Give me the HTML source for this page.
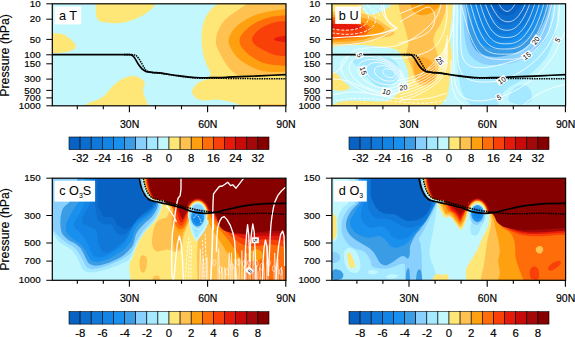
<!DOCTYPE html>
<html lang="en"><head><meta charset="utf-8"><title>Figure: T, U, O3S and O3 anomalies</title>
<style>html,body{margin:0;padding:0;background:#fff}body{width:575px;height:337px;overflow:hidden}svg{display:block}svg text{stroke:#000;stroke-width:.18px;stroke-linejoin:round}svg text.pl{stroke:none}</style>
</head><body>
<svg width="575" height="337" viewBox="0 0 575 337" font-family='"Liberation Sans", Arial, Helvetica, sans-serif' fill="#000">
<rect width="575" height="337" fill="#fff"/>
<defs>
<clipPath id="clipa"><rect x="52.3" y="3.8" width="233.7" height="102"/></clipPath>
<clipPath id="clipb"><rect x="331.9" y="3.8" width="233.7" height="102"/></clipPath>
<clipPath id="clipc"><rect x="52.3" y="178.2" width="233.7" height="102.1"/></clipPath>
<clipPath id="clipd"><rect x="331.9" y="178.2" width="233.7" height="102.1"/></clipPath>
</defs>
<g clip-path="url(#clipa)"><rect x="52.3" y="3.8" width="233.7" height="102" fill="#C2F8FD"/><path d="M95.8 0C95.8 2.3 95.5 10.6 96 14C96.5 17.4 96.8 19.1 98.5 20.5C100.2 21.9 103.1 22.1 106 22.6C108.9 23.1 112.7 23.4 116 23.3C119.3 23.2 122.7 22.8 126 22C129.3 21.2 132.8 20.1 136 18.8C139.2 17.5 142.3 15.7 145 14C147.7 12.3 149.8 10.8 152 8.5C154.2 6.2 157.4 1.4 158.5 0Z" fill="#FFE777"/><path d="M48 33.2C50 33.3 56.8 33 60 33.6C63.2 34.2 65.2 35.5 67.5 37C69.8 38.5 72.2 40.7 73.6 42.3C75 43.9 76 45.2 75.8 46.5C75.6 47.8 74.6 49 72.5 50C70.4 51 67.1 51.9 63 52.4C58.9 52.9 50.5 53.1 48 53.2Z" fill="#FFE777"/><path d="M82 108C83 107.2 85.6 104.3 88.3 102.9C91 101.5 95.4 101 98.4 99.4C101.4 97.8 104.2 95.6 106.5 93.4C108.8 91.2 110.2 88.5 112.5 86.3C114.8 84 117.9 81.5 120.6 79.9C123.3 78.3 126.3 77.2 128.7 76.6C131 76 132.7 75.9 134.7 76.2C136.7 76.5 139.1 77.3 140.8 78.4C142.5 79.5 144.4 80.9 144.8 82.6C145.2 84.2 143.6 86.3 143.4 88.3C143.2 90.3 143.3 92.4 143.8 94.4C144.3 96.4 145.6 98.1 146.4 100.4C147.2 102.7 148.2 106.7 148.5 108Z" fill="#FFE777"/><path d="M222.5 0C220.5 1.7 213.5 6.6 210.5 10C207.5 13.4 205.8 16.5 204.3 20.2C202.8 23.9 202.1 28.6 201.7 32.3C201.3 36 201.6 39.3 201.7 42.3C201.8 45.2 202.1 47.3 202.5 50C202.9 52.7 203.5 55.8 204.2 58.3C204.9 60.8 205.9 63 206.7 65C207.5 67 208.6 68.3 209.2 70C209.8 71.7 210.9 73.5 210.5 75C210.1 76.5 208.4 78.1 206.7 79.2C204.9 80.3 201.9 80.6 200 81.7C198.1 82.8 196.3 84.1 195 85.8C193.7 87.5 191.8 89.9 192 92C192.2 94.1 194 96.8 196.2 98.2C198.4 99.6 201.9 100.2 205.3 100.4C208.7 100.6 212.5 99.4 216.4 99.6C220.3 99.8 225.1 100.8 228.5 101.4C231.9 102.1 234.5 102.4 236.6 103.5C238.7 104.6 240.3 107.2 241 108L292 108L292 0Z" fill="#FFE777"/><path d="M253 0C250.3 1.8 241.3 7.6 236.6 11C231.8 14.4 227.7 16.6 224.5 20.2C221.3 23.8 218.8 28.6 217.4 32.3C216 36 216 39.6 216 42.3C216 45 216.6 45.9 217.5 48.3C218.4 50.7 220.2 53.9 221.7 56.7C223.2 59.5 225 62.6 226.7 65C228.4 67.3 229.5 69 231.7 70.8C233.9 72.6 235.3 74.8 240 75.6C244.7 76.4 251.3 75.9 260 75.8C268.7 75.7 286.7 75 292 74.8L292 0Z" fill="#FFC250"/><path d="M292 8.3C287.8 8.9 273.7 10.6 266.8 12C259.9 13.4 255.7 14.6 250.7 17C245.7 19.4 240.1 23 236.6 26.2C233.1 29.4 230.8 33.6 229.5 36.3C228.2 39 228.5 40.3 228.7 42.3C228.9 44.3 229.5 45.9 230.8 48.3C232.1 50.7 234.3 54.2 236.7 56.7C239.1 59.2 241.7 61.2 245 63.3C248.3 65.4 252.8 67.8 256.7 69.2C260.6 70.6 262.4 71.3 268.3 71.7C274.2 72.1 288.1 71.7 292 71.7Z" fill="#FFA010"/><path d="M292 14.8C288.5 15.2 277.1 15.6 270.9 17C264.7 18.4 259.2 20.6 254.7 23.2C250.1 25.8 246.1 29.4 243.6 32.3C241.1 35.1 239.7 37.6 239.5 40.3C239.3 43 240.5 45.6 242.5 48.3C244.5 51 247.9 54.2 251.7 56.7C255.4 59.2 260.8 61.9 265 63.3C269.2 64.7 272.2 64.8 276.7 65.3C281.2 65.8 289.4 65.9 292 66Z" fill="#FF6C0A"/><path d="M292 21C289.1 21.2 280.1 21 274.9 22.2C269.7 23.4 264.3 26 260.8 28.2C257.3 30.4 255.1 33.3 253.7 35.3C252.2 37.3 251.8 38.6 252.1 40.3C252.4 42 253.7 43.8 255.8 45.5C257.9 47.2 261.8 49.2 265 50.8C268.2 52.4 270.5 54 275 55C279.5 56 289.2 56.5 292 56.8Z" fill="#F84008"/><path d="M292 35C289.8 35.3 281.9 36 278.9 36.7C275.9 37.4 273.9 38.5 273.9 39.3C273.9 40.1 275.9 41 278.9 41.5C281.9 42 289.8 42.3 292 42.5Z" fill="#E61A0A"/><path d="M251 106C252.8 105.7 255.2 104.7 262 104.4C268.8 104.1 287 104.2 292 104.2L292 108L251 108Z" fill="#FFC250"/><path d="M50 54.6C58.3 54.6 87.2 54.6 100 54.6C112.8 54.6 121.9 54.6 127 54.6C132.1 54.6 129.8 54.7 130.8 54.9C131.8 55.1 132.1 55.3 132.8 55.9C133.5 56.5 134 57 134.9 58.4C135.8 59.8 137 62.2 138.2 64C139.4 65.8 141 67.9 142.3 69.2C143.7 70.5 144.7 71.1 146.3 71.6C147.9 72.1 149.4 72.1 152 72.4C154.6 72.7 157.3 72.7 161.7 73.2C166.1 73.8 172.8 75 178.3 75.7C183.9 76.4 189.4 77.2 195 77.5C200.6 77.8 206.2 77.8 211.7 77.7C217.2 77.7 223.3 77.4 228 77.2C232.7 77 234.7 76.9 240 76.7C245.3 76.5 252 76.2 260 75.8C268 75.4 283.3 74.8 288 74.6" fill="none" stroke="#000" stroke-width="1.7"/><path d="M124 54.6C124.5 54.6 125.9 54.6 127 54.6C128.1 54.6 129.2 54.6 130.4 54.6C131.6 54.6 133.4 54.7 134.4 54.9C135.4 55.1 135.9 55.4 136.6 56C137.3 56.6 137.9 57.3 138.8 58.6C139.7 59.9 140.8 62 141.8 63.6C142.8 65.2 143.7 67.1 144.6 68.4C145.5 69.7 145.8 70.5 147.4 71.2C149 71.9 151.6 72.4 154 72.8C156.4 73.2 157.6 73 161.7 73.5C165.8 74 172.8 75.3 178.3 76C183.9 76.7 189.4 77.5 195 77.9C200.6 78.3 205.9 78.1 211.7 78.2C217.5 78.3 223.6 78.3 230 78.4C236.4 78.5 240.3 78.5 250 78.6C259.7 78.7 281.7 78.8 288 78.8" fill="none" stroke="#000" stroke-width="1.55" stroke-dasharray="1.5 0.9"/></g>
<g clip-path="url(#clipb)"><rect x="331.9" y="3.8" width="233.7" height="102" fill="#FFE777"/><path d="M361.5 0C361.7 1.3 361.9 5.9 362.5 8C363.1 10.1 363.8 11.4 365 12.5C366.2 13.6 368.2 14.4 370 14.6C371.8 14.8 374 14.3 376 13.8C378 13.3 380.2 12.5 382 11.6C383.8 10.7 385.6 9.6 387 8.6C388.4 7.6 389.5 6.9 390.5 5.5C391.5 4.1 392.4 0.9 392.8 0Z" fill="#C2F8FD"/><path d="M330 10C331 10.3 333.5 11.6 336 12C338.5 12.4 341.8 12.3 345 12.5C348.2 12.7 351.9 12.8 355 13C358.1 13.2 360.6 13 363.4 13.7C366.2 14.4 369.2 15.8 372 17C374.8 18.2 377.9 19.9 380.1 21.2C382.3 22.4 383.5 23.5 385 24.5C386.5 25.5 387.8 26.4 389 27.4C390.2 28.3 391.6 29.3 392.5 30.2C393.4 31.1 394.4 31.8 394.5 32.6C394.6 33.4 394.1 34.3 393 35C391.9 35.7 390.2 36.3 388 36.8C385.8 37.3 382.7 37.4 380 37.9C377.3 38.4 374.8 39.2 372 40C369.2 40.8 367.1 42.1 363.4 42.9C359.7 43.6 355.6 44.1 350 44.5C344.4 44.9 333.3 45.3 330 45.5Z" fill="#FFC250"/><path d="M330 14C331.7 14.2 336.3 15.1 340 15.5C343.7 15.9 348.1 16.1 352 16.5C355.9 16.9 360.1 17.1 363.4 17.9C366.7 18.6 369.2 19.9 372 21C374.8 22.1 378.2 23.4 380.1 24.5C382 25.6 382.6 26.6 383.4 27.4C384.1 28.2 384.7 28.8 384.6 29.5C384.5 30.2 383.8 31 383 31.6C382.2 32.2 381.9 32.1 380.1 32.9C378.3 33.7 374.8 35.3 372 36.4C369.2 37.5 367.1 38.8 363.4 39.6C359.7 40.4 355.6 40.9 350 41.3C344.4 41.7 333.3 41.9 330 42Z" fill="#FFA010"/><path d="M330 17C332.5 17.2 340.7 17.9 345 18.5C349.3 19.1 352.9 19.8 356 20.5C359.1 21.2 361.4 22.1 363.4 22.9C365.4 23.7 366.7 24.4 368 25.4C369.3 26.4 371 27.6 371 28.8C371 30 369.3 31.4 368 32.6C366.7 33.8 366.1 35.2 363.4 36.2C360.7 37.2 355.9 38.1 352 38.6C348.1 39.1 343.7 39.2 340 39.4C336.3 39.6 331.7 39.6 330 39.6Z" fill="#FF6C0A"/><path d="M330 20C332.5 20.2 340.7 21 345 21.5C349.3 22 353.2 22.4 356 23C358.8 23.6 360.4 24.3 362 25.2C363.6 26.1 365.6 27.3 365.8 28.6C366 29.9 365 31.8 363.4 32.9C361.8 34 359.1 34.8 356 35.4C352.9 36 349.3 36.5 345 36.8C340.7 37.1 332.5 37.1 330 37.2Z" fill="#F84008"/><path d="M330 23.6C332.5 23.7 340.8 23.8 345 24C349.2 24.2 352.4 24.3 355 24.6C357.6 24.9 359.4 25.5 360.5 26C361.6 26.5 361.9 26.9 361.6 27.4C361.4 27.9 360.6 28.4 359 28.8C357.4 29.2 355.2 29.4 352 29.6C348.8 29.8 343.7 29.9 340 30C336.3 30.1 331.7 30 330 30Z" fill="#E61A0A"/><path d="M398 0C398.3 2 399.2 8.5 400 12C400.8 15.5 401.5 17.7 402.5 21C403.5 24.3 405 28.2 406 32C407 35.8 408.2 40.4 408.3 43.7C408.4 47 406.6 49.3 406.6 52C406.7 54.7 407.9 57.7 408.6 60C409.3 62.3 410.3 64 411 66C411.7 68 412.3 69.7 413 72C413.7 74.3 414.4 77.9 415.4 80C416.4 82.1 417.6 83.5 419 84.4C420.4 85.3 422.3 85.4 424 85.4C425.7 85.4 427.3 85.2 429 84.6C430.7 83.9 432.6 83.1 434 81.5C435.4 79.9 436.4 77.6 437.2 75C438 72.4 438.4 68.9 438.6 66C438.8 63.1 438.8 60.7 438.3 57.8C437.8 54.9 436.6 51.6 435.8 48.7C435 45.8 433.3 43.1 433.3 40.3C433.3 37.5 434.6 34.8 435.8 32C437.1 29.2 439.4 26.5 440.8 23.7C442.2 20.9 443.2 18.5 444.2 15.3C445.2 12.1 446.2 7.1 446.7 4.5C447.2 1.9 446.9 0.8 447 0Z" fill="#FFC250"/><path d="M409.5 0C409.8 1 410.4 4.1 411 6C411.6 7.9 412.3 9.9 413.3 11.2C414.3 12.5 415.6 13.3 417 14C418.4 14.7 420 15.2 421.7 15.3C423.4 15.4 425.3 15 427 14.6C428.7 14.2 430.2 13.7 431.7 12.8C433.2 12 434.8 10.6 436 9.5C437.2 8.4 438.4 7.6 439.2 6C439.9 4.4 440.3 1 440.5 0Z" fill="#FFA010"/><path d="M414 60C414.7 58.7 416.2 58.2 417.5 57.8C418.8 57.3 420.1 57.2 421.7 57.3C423.3 57.4 425.3 57.9 427 58.6C428.7 59.3 430.4 60.5 431.7 61.7C433 62.9 434.3 64.6 435 66C435.7 67.4 435.7 68.6 435.8 70C435.9 71.4 435.9 73.1 435.6 74.5C435.3 75.9 435 77.2 434.2 78.3C433.4 79.4 432.2 80.3 431 81C429.8 81.7 428.2 82.3 426.7 82.5C425.2 82.7 423.4 82.4 422 82C420.6 81.6 419.4 81 418.3 80C417.2 79 416.2 77.4 415.5 76C414.8 74.6 414.6 73.5 414.2 71.7C413.8 70 413.4 67.5 413.4 65.5C413.4 63.5 413.3 61.3 414 60Z" fill="#FFAA28"/><path d="M330 47C332.5 46.8 339.7 45.8 345 45.5C350.3 45.2 356.5 44.8 362 45C367.5 45.2 373.3 46 378 46.5C382.7 47 386.9 47.4 390 48C393.1 48.6 394.9 48.9 396.7 50C398.4 51.1 399.4 52.8 400.5 54.5C401.6 56.2 402.4 58.2 403.3 60C404.2 61.8 405.3 63.3 406 65C406.7 66.7 407.1 68.2 407.5 70C407.9 71.8 408.5 73.8 408.6 75.5C408.7 77.2 408.7 78.5 408.3 80C407.9 81.5 407.1 83.2 406.3 84.5C405.5 85.8 404.3 86.9 403.3 88C402.3 89.1 401.4 90 400.3 91C399.2 92 398.1 92.9 397 94C395.9 95.1 394.7 96.6 393.6 97.6C392.5 98.6 391.7 99.4 390.4 100C389.1 100.6 387.7 101 386 101.2C384.3 101.4 382.5 101.4 380 101.4C377.5 101.4 373.8 101.3 371 101.2C368.2 101.1 366 101.1 363.3 101C360.6 100.9 357.8 100.8 355 100.8C352.2 100.8 349.2 100.7 346.7 100.9C344.2 101.1 341.8 101.4 340 101.8C338.2 102.2 337.7 102.6 336 103.2C334.3 103.8 331 105.1 330 105.5Z" fill="#C2F8FD"/><path d="M352.5 60C352.9 59 355.2 58.3 357 57.8C358.8 57.2 360.8 57 363.3 56.7C365.8 56.4 369.2 56.3 372 56.2C374.8 56.1 377.5 56.1 380 56.3C382.5 56.5 384.8 56.9 387 57.5C389.2 58.1 391.6 59 393.3 60C395 61 396 62.3 397 63.7C398 65.1 398.7 66.8 399.2 68.3C399.7 69.8 400 71.1 400 72.5C400 73.9 399.7 75.4 399.2 76.7C398.7 78 398 79.2 397 80.3C396 81.4 394.6 82.6 393.3 83.6C392 84.6 390.8 85.6 389.4 86.3C388 87 386.5 87.4 385 87.6C383.5 87.8 382 87.6 380.6 87.3C379.2 87 378.1 86.6 376.7 85.8C375.3 85 373.9 83.8 372.5 82.5C371.1 81.2 369.9 79.8 368.3 78.3C366.7 76.8 364.7 74.9 363 73.2C361.3 71.5 359.7 69.8 358.3 68.3C356.9 66.8 355.6 65.4 354.6 64C353.6 62.6 352.1 61 352.5 60Z" fill="#A4E9FF"/><path d="M330 71.8C330.8 72 333.1 72.3 334.5 72.8C335.9 73.3 337.3 74.1 338.3 75C339.3 75.9 339.9 77 340.6 78C341.3 79 341.6 79.9 342.5 80.8C343.4 81.7 344.9 82.7 346 83.6C347.1 84.5 348.6 85.2 349.2 86C349.8 86.8 350 87.6 349.6 88.2C349.2 88.8 348.6 89.4 347 89.8C345.4 90.2 342.2 90.8 340 90.8C337.8 90.8 335.7 90.2 334 89.8C332.3 89.4 330.7 88.8 330 88.6Z" fill="#FFE777"/><path d="M453.3 0C453.1 1.7 452.7 6.9 452.4 10C452.1 13.1 452 15.9 451.7 18.7C451.4 21.5 450.9 24.2 450.6 27C450.3 29.8 450 32.5 450 35.3C450 38.1 450.2 41.2 450.5 44C450.8 46.8 451.5 49.3 451.7 52C451.9 54.7 452 57.3 451.9 60C451.8 62.7 451.3 65.5 451 68C450.7 70.5 450.3 72.3 450 75C449.7 77.7 449.5 81.2 449.2 84C448.9 86.8 448.7 89.6 448.3 91.7C447.9 93.8 447.4 95.1 446.8 96.5C446.2 97.9 445.9 98.8 445 100C444.1 101.2 443 102.2 441.7 103.5C440.4 104.8 437.8 107.2 437 108L570 108L570 0Z" fill="#C2F8FD"/><path d="M457 0C457.1 0.8 457.2 2.1 457.5 4.5C457.8 6.9 458.5 10.2 458.6 14.5C458.7 18.8 458.2 24.1 458 30C457.8 35.9 457.5 44.2 457.4 50C457.3 55.8 457.1 60 457.4 64.7C457.7 69.4 458.4 74.1 459 78C459.6 81.9 460 84.9 460.8 87.9C461.6 90.9 462.5 93.3 464 96C465.5 98.7 468 101.7 470 104C472 106.3 471.7 109 476 110C480.3 111 492.3 111 496 110C499.7 109 497.3 106 498 104C498.7 102 499 100 500 98C501 96 502.3 93.8 504 92C505.7 90.2 507.5 88.7 510 87C512.5 85.3 516.2 83.5 518.9 81.8C521.6 80.1 523.6 78.8 526 77C528.4 75.2 531 73.5 533.5 71.3C536 69.1 538.8 66.4 541 64C543.2 61.6 544.8 59.7 546.5 57C548.2 54.3 549.7 51.2 551 48C552.3 44.8 553.6 41.7 554.5 38C555.4 34.3 556 29.9 556.5 26C557 22.1 557.1 18.8 557.3 14.5C557.5 10.2 557.7 2.4 557.8 0Z" fill="#A4E9FF"/><path d="M508.5 100.5C507.8 99 509.1 96.2 509.8 94.5C510.5 92.8 511.4 91.3 512.6 90C513.8 88.7 515.3 87.4 517 86.6C518.7 85.8 521.2 84.9 523 84.9C524.8 84.9 526.4 85.7 527.6 86.5C528.8 87.3 529.7 88.6 530.4 90C531.1 91.4 531.8 93.2 532 95C532.2 96.8 532.2 99.1 531.4 100.5C530.6 101.9 528.7 102.9 527 103.6C525.3 104.3 523.2 104.7 521 104.7C518.8 104.7 516.1 104.3 514 103.6C511.9 102.9 509.2 102 508.5 100.5Z" fill="#A4E9FF"/><path d="M461.4 0C461.4 0.8 461.4 2.1 461.7 4.5C462 6.9 462.8 10.2 463.2 14.5C463.6 18.8 463.5 24.9 464 30C464.5 35.1 465 40.8 466 45C467 49.2 468.2 52.3 470 55C471.8 57.7 474.7 59.5 477 61C479.3 62.5 481.5 63.3 484 64C486.5 64.7 488.8 64.9 491.8 65C494.8 65.1 498.5 64.9 502 64.6C505.5 64.3 509.4 63.8 512.6 63C515.8 62.2 518.2 61 521 59.6C523.8 58.2 526.6 56.4 529.3 54.6C532 52.8 534.5 50.8 537 48.6C539.5 46.4 542 44.7 544 41.6C546 38.5 547.6 34.5 548.8 30C550 25.5 550.5 18.8 551.2 14.5C552 10.2 552.9 6.9 553.3 4.5C553.7 2.1 553.7 0.8 553.8 0Z" fill="#8AD0FF"/><path d="M464.6 0C464.7 0.8 464.6 2.1 465 4.5C465.4 6.9 466.4 10.6 466.9 14.5C467.4 18.4 467.4 23.8 468 28C468.6 32.2 469.3 36.5 470.5 40C471.7 43.5 473.1 46.6 475 49C476.9 51.4 479.2 53.2 482 54.5C484.8 55.8 488.5 56.5 492 56.8C495.5 57.1 499.3 56.8 503 56.2C506.7 55.7 510.3 55 514 53.5C517.7 52 521.7 49.9 525 47.5C528.3 45.1 531.3 42.2 534 39C536.7 35.8 538.9 32.1 541 28C543.1 23.9 545.5 18.4 546.8 14.5C548.1 10.6 548.5 6.9 549 4.5C549.5 2.1 549.4 0.8 549.5 0Z" fill="#3A9CE4"/><path d="M467.8 0C467.9 0.8 467.7 2.1 468.3 4.5C468.9 6.9 470.5 10.9 471.3 14.5C472.1 18.1 472.2 22.4 473 26C473.8 29.6 474.7 33.1 476 36C477.3 38.9 479 41.6 481 43.5C483 45.4 485.3 46.6 488 47.5C490.7 48.4 494 48.9 497 49C500 49.1 503 48.9 506 48.3C509 47.7 512 46.9 515 45.5C518 44.1 521.2 42.2 524 40C526.8 37.8 529.6 34.8 532 32C534.4 29.2 536.7 25.9 538.5 23C540.3 20.1 541.9 17.6 543 14.5C544.1 11.4 544.6 6.9 545 4.5C545.4 2.1 545.5 0.8 545.6 0Z" fill="#1A90EE"/><path d="M472.6 0C472.7 0.8 472.7 2.1 473.3 4.5C473.9 6.9 475.4 11.2 476.3 14.5C477.2 17.8 477.6 21.1 478.5 24C479.4 26.9 480.5 29.7 482 32C483.5 34.3 485.4 36.5 487.5 38C489.6 39.5 492.1 40.6 494.5 41.2C496.9 41.8 499.4 41.9 502 41.8C504.6 41.7 507.3 41.3 510 40.5C512.7 39.7 515.4 38.4 518 36.8C520.6 35.2 523.2 33.2 525.5 31C527.8 28.8 529.9 26.2 532 23.5C534.1 20.8 536.5 17.7 538 14.5C539.5 11.3 540.4 6.9 541 4.5C541.6 2.1 541.7 0.8 541.8 0Z" fill="#1284E5"/><path d="M476.6 0C476.9 0.8 477.1 2.1 478.3 4.5C479.5 6.9 482.4 11.6 483.8 14.5C485.2 17.4 485.4 19.8 486.5 22C487.6 24.2 488.9 26.3 490.5 28C492.1 29.7 494 31.4 496 32.4C498 33.4 500.2 33.9 502.5 34C504.8 34.1 507.2 33.9 509.5 33.2C511.8 32.5 514.2 31.2 516.5 29.8C518.8 28.4 521.1 26.3 523 24.5C524.9 22.7 526.5 20.7 528 19C529.5 17.3 530.4 16.9 531.8 14.5C533.2 12.1 535.5 6.9 536.5 4.5C537.5 2.1 537.8 0.8 538 0Z" fill="#1078D8"/><path d="M482.5 0C482.9 0.8 483.3 2.1 485 4.5C486.7 6.9 490.8 12 492.5 14.5C494.2 17 494.3 18.1 495.5 19.5C496.7 20.9 498 22.1 499.5 23C501 23.9 502.8 24.6 504.5 24.8C506.2 25 508.2 24.7 510 24.2C511.8 23.7 513.8 22.6 515.5 21.6C517.2 20.6 519 19.2 520.5 18C522 16.8 522.7 16.8 524.3 14.5C525.9 12.2 528.7 6.9 530 4.5C531.3 2.1 531.7 0.8 532 0Z" fill="#0D6DCE"/><path d="M487 0C487.6 0.8 489.3 2.8 490.8 4.5C492.3 6.2 494.5 8.5 496 10C497.5 11.5 498.5 12.6 500 13.5C501.5 14.4 503.3 15.3 505 15.6C506.7 15.8 508.4 15.5 510 15C511.6 14.5 513.1 13.5 514.5 12.5C515.9 11.5 517.2 10.3 518.5 9C519.8 7.7 520.9 6 522 4.5C523.1 3 524.5 0.8 525 0Z" fill="#0762C4"/><path d="M496.7 -0.7C496.9 -0.2 497.6 1.3 498 2.1C498.4 3 498.8 3.8 499.3 4.6C499.7 5.4 500.1 6 500.6 6.7C501 7.3 501.4 7.9 501.9 8.4C502.3 8.9 502.7 9.3 503.1 9.7C503.6 10.1 504 10.4 504.4 10.6C504.9 10.9 505.3 11.1 505.7 11.2C506.1 11.3 506.6 11.4 507 11.4C507.4 11.4 507.9 11.3 508.3 11.2C508.7 11.1 509.1 10.9 509.6 10.6C510 10.4 510.4 10.1 510.9 9.7C511.3 9.3 511.7 8.9 512.1 8.4C512.6 7.9 513 7.3 513.4 6.7C513.9 6 514.3 5.4 514.7 4.6C515.2 3.8 515.6 3 516 2.1C516.4 1.3 517.1 -0.2 517.3 -0.7" fill="none" stroke="#fff" stroke-width="0.75" stroke-opacity="0.9"/><path d="M488.4 -1.5C488.8 -0.5 490.1 2.6 490.9 4.5C491.7 6.3 492.5 7.9 493.3 9.4C494.1 11 495 12.3 495.8 13.5C496.6 14.7 497.4 15.8 498.2 16.7C499 17.7 499.8 18.5 500.7 19.1C501.5 19.8 502.3 20.3 503.1 20.7C503.9 21.1 504.7 21.4 505.6 21.6C506.4 21.7 507.2 21.8 508 21.8C508.8 21.8 509.6 21.7 510.4 21.6C511.3 21.4 512.1 21.1 512.9 20.7C513.7 20.3 514.5 19.8 515.3 19.1C516.2 18.5 517 17.7 517.8 16.7C518.6 15.8 519.4 14.7 520.2 13.5C521 12.3 521.9 11 522.7 9.4C523.5 7.9 524.3 6.3 525.1 4.5C525.9 2.6 527.2 -0.5 527.6 -1.5" fill="none" stroke="#fff" stroke-width="0.75" stroke-opacity="0.9"/><path d="M483.3 -2.2C483.8 -0.7 485.3 4 486.3 6.7C487.3 9.4 488.3 11.8 489.2 13.9C490.2 16.1 491.2 18 492.2 19.7C493.1 21.4 494.1 22.8 495.1 24.1C496.1 25.3 497 26.3 498 27.1C499 28 500 28.6 501 29C502 29.5 503 29.8 504 30C505 30.2 506 30.2 507 30.2C508 30.2 509 30.2 510 30C511 29.8 512.1 29.5 513.1 29C514.1 28.6 515.1 28 516.2 27.1C517.2 26.3 518.2 25.3 519.3 24.1C520.3 22.8 521.4 21.4 522.4 19.7C523.5 18 524.5 16.1 525.5 13.9C526.6 11.8 527.6 9.4 528.7 6.7C529.7 4 531.2 -0.7 531.7 -2.2" fill="none" stroke="#fff" stroke-width="0.75" stroke-opacity="0.9"/><path d="M478.1 -3C478.7 -1 480.6 5.3 481.8 8.9C482.9 12.4 484.1 15.6 485.2 18.3C486.4 21.1 487.5 23.5 488.7 25.6C489.8 27.6 491 29.4 492.1 30.8C493.3 32.3 494.5 33.4 495.7 34.3C496.8 35.3 498 35.9 499.2 36.4C500.4 36.9 501.6 37.1 502.8 37.3C504.1 37.5 505.3 37.5 506.5 37.5C507.7 37.5 508.9 37.5 510.2 37.3C511.4 37.1 512.6 36.9 513.9 36.4C515.1 35.9 516.4 35.3 517.7 34.3C518.9 33.4 520.2 32.3 521.5 30.8C522.8 29.4 524.1 27.6 525.4 25.6C526.7 23.5 528 21.1 529.3 18.3C530.6 15.6 531.9 12.4 533.1 8.9C534.4 5.3 536.2 -1 536.8 -3" fill="none" stroke="#fff" stroke-width="0.75" stroke-opacity="0.9"/><path d="M473.5 -3.8C474.2 -1.3 476.3 6.7 477.7 11.1C479 15.4 480.3 19.2 481.6 22.5C482.9 25.9 484.2 28.6 485.5 31C486.8 33.4 488.1 35.4 489.4 37C490.8 38.6 492.1 39.8 493.5 40.7C494.8 41.7 496.2 42.3 497.6 42.8C499 43.3 500.4 43.5 501.8 43.7C503.2 43.8 504.6 43.8 506 43.8C507.4 43.8 508.8 43.8 510.3 43.7C511.7 43.5 513.1 43.3 514.6 42.8C516 42.3 517.5 41.7 518.9 40.7C520.4 39.8 521.9 38.6 523.4 37C524.9 35.4 526.5 33.4 528 31C529.5 28.6 531.1 25.9 532.6 22.5C534.1 19.2 535.7 15.4 537.1 11.1C538.6 6.7 540.8 -1.3 541.5 -3.8" fill="none" stroke="#fff" stroke-width="0.75" stroke-opacity="0.9"/><path d="M468.4 -4.5C469.1 -1.6 471.6 8 473.1 13.1C474.6 18.3 476 22.6 477.5 26.4C479 30.2 480.4 33.3 481.9 35.9C483.3 38.6 484.8 40.6 486.3 42.3C487.8 44 489.3 45.2 490.9 46.2C492.4 47.2 494 47.7 495.6 48.2C497.2 48.6 498.8 48.8 500.4 48.9C502 49 503.6 49 505.2 49C506.9 49 508.5 49 510.1 48.9C511.8 48.8 513.4 48.6 515 48.2C516.7 47.7 518.4 47.2 520.1 46.2C521.7 45.2 523.5 44 525.2 42.3C526.9 40.6 528.7 38.6 530.5 35.9C532.2 33.3 534.1 30.2 535.8 26.4C537.6 22.6 539.4 18.3 541.1 13.1C542.8 8 545.3 -1.6 546.1 -4.5" fill="none" stroke="#fff" stroke-width="0.75" stroke-opacity="0.9"/><path d="M463.7 -5.4C464.6 -1.9 467.3 9.4 468.9 15.3C470.6 21.3 472.2 26.2 473.8 30.5C475.4 34.7 476.9 38.1 478.5 41C480.1 43.8 481.8 45.9 483.4 47.7C485.1 49.5 486.8 50.7 488.5 51.6C490.2 52.6 492 53.1 493.7 53.5C495.5 53.9 497.3 54 499.1 54.1C500.9 54.2 502.7 54.2 504.5 54.2C506.3 54.2 508.1 54.2 509.9 54.1C511.7 54 513.5 53.9 515.4 53.5C517.2 53.1 519.1 52.6 521 51.6C522.8 50.7 524.7 49.5 526.7 47.7C528.6 45.9 530.6 43.8 532.6 41C534.6 38.1 536.6 34.7 538.7 30.5C540.7 26.2 542.7 21.3 544.7 15.3C546.6 9.4 549.3 -1.9 550.2 -5.4" fill="none" stroke="#fff" stroke-width="0.75" stroke-opacity="0.9"/><path d="M458.9 -6.3C459.8 -2.3 462.8 10.9 464.6 17.7C466.4 24.5 468.1 30 469.8 34.7C471.6 39.4 473.2 43 475 46.1C476.8 49.2 478.5 51.4 480.4 53.2C482.2 55 484.1 56.1 486 57.1C487.9 58 489.8 58.4 491.8 58.8C493.7 59.2 495.7 59.2 497.7 59.3C499.7 59.4 501.7 59.4 503.6 59.4C505.6 59.4 507.6 59.4 509.6 59.3C511.6 59.2 513.6 59.2 515.6 58.8C517.7 58.4 519.7 58 521.8 57.1C523.9 56.1 526 55 528.1 53.2C530.3 51.4 532.5 49.2 534.7 46.1C536.9 43 539.2 39.4 541.4 34.7C543.7 30 546 24.5 548.2 17.7C550.3 10.9 553.3 -2.3 554.4 -6.3" fill="none" stroke="#fff" stroke-width="0.75" stroke-opacity="0.9"/><path d="M461 0C460.9 5 460.5 21.3 460.6 30C460.7 38.7 460.6 46.5 461.5 52C462.4 57.5 463.6 60.4 466 63C468.4 65.6 471.7 66.9 476 67.5C480.3 68.1 486.3 67.4 492 66.5C497.7 65.6 504.2 63.8 510 62C515.8 60.2 522 58.4 526.8 55.7C531.6 53 535.5 49.8 539 46C542.5 42.2 545.6 38 548 33C550.4 28 552.3 21.5 553.5 16C554.7 10.5 554.8 2.7 555 0" fill="none" stroke="#fff" stroke-width="0.85"/><path d="M457.5 0C457.4 5 457 20.8 457 30C457 39.2 457.1 48.3 457.6 55C458.1 61.7 458.3 66 460 70C461.7 74 464.3 77 468 79C471.7 81 476.4 81.8 482 82C487.6 82.2 495.5 82 501.8 80.3C508.1 78.6 514 75.7 520 72C526 68.3 533 63 538 58C543 53 546.8 47.7 550 42C553.2 36.3 555.8 31 557.5 24C559.2 17 559.6 4 560 0" fill="none" stroke="#fff" stroke-width="0.85"/><path d="M454 0C453.9 6.7 453.5 28.3 453.5 40C453.5 51.7 453.6 62.3 454 70C454.4 77.7 454.5 81.5 456 86C457.5 90.5 459.3 94.5 463 97C466.7 99.5 472 100.9 478 101C484 101.1 492.3 99.4 499 97.4C505.7 95.4 511.8 92.6 518 89C524.2 85.4 530.3 81.2 536 76C541.7 70.8 547.8 64 552 58C556.2 52 558.7 44.7 561 40C563.3 35.3 565.2 31.7 566 30" fill="none" stroke="#fff" stroke-width="0.85"/><path d="M451 60C451.2 64.2 450.8 78.3 452 85C453.2 91.7 455 96.2 458 100C461 103.8 468 106.7 470 108" fill="none" stroke="#fff" stroke-width="0.85"/><path d="M520 108C522.5 106 529.7 99.3 535 96C540.3 92.7 546.5 90 552 88C557.5 86 565.3 84.7 568 84" fill="none" stroke="#fff" stroke-width="0.85"/><path d="M404.4 86.2C403.5 88.5 401.7 90.6 399.4 92.1C397.1 93.6 393.9 94.8 390.4 95.3C387 95.9 382.8 95.9 378.8 95.3C374.8 94.8 370.3 93.7 366.3 92.2C362.3 90.7 358.2 88.6 354.8 86.3C351.4 84.1 348.3 81.3 346.1 78.6C343.9 76 342.2 73 341.5 70.3C340.7 67.6 340.8 64.9 341.6 62.6C342.5 60.3 344.3 58.2 346.6 56.7C348.9 55.2 352.1 54 355.6 53.5C359 52.9 363.2 52.9 367.2 53.5C371.2 54 375.7 55.1 379.7 56.6C383.7 58.1 387.8 60.2 391.2 62.5C394.6 64.7 397.7 67.5 399.9 70.2C402.1 72.8 403.8 75.8 404.5 78.5C405.3 81.2 405.2 83.9 404.4 86.2Z" fill="none" stroke="#fff" stroke-width="0.85"/><path d="M402.5 84C401.8 86 400.3 87.7 398.3 89C396.4 90.3 393.7 91.3 390.8 91.7C387.9 92.2 384.4 92.2 381.1 91.8C377.7 91.3 373.9 90.4 370.6 89.1C367.2 87.9 363.8 86.1 360.9 84.2C358.1 82.3 355.5 80 353.6 77.7C351.8 75.5 350.4 73 349.7 70.7C349.1 68.5 349.2 66.2 349.9 64.3C350.6 62.3 352.1 60.6 354.1 59.3C356 58 358.7 57 361.6 56.6C364.5 56.1 368 56.1 371.3 56.5C374.7 57 378.5 57.9 381.8 59.2C385.2 60.4 388.6 62.2 391.5 64.1C394.3 66 396.9 68.3 398.8 70.6C400.6 72.8 402 75.3 402.7 77.6C403.3 79.8 403.2 82.1 402.5 84Z" fill="none" stroke="#fff" stroke-width="0.85"/><path d="M400.6 81.9C400.1 83.4 398.9 84.9 397.3 85.9C395.7 87 393.5 87.8 391.2 88.2C388.9 88.5 386 88.5 383.3 88.2C380.6 87.9 377.5 87.1 374.8 86.1C372.1 85 369.3 83.6 367 82.1C364.8 80.5 362.6 78.7 361.1 76.8C359.6 75 358.5 73 358 71.2C357.5 69.3 357.6 67.5 358.2 65.9C358.7 64.4 359.9 62.9 361.5 61.9C363.1 60.8 365.3 60 367.6 59.6C369.9 59.3 372.8 59.3 375.5 59.6C378.2 59.9 381.3 60.7 384 61.7C386.7 62.8 389.5 64.2 391.8 65.7C394 67.3 396.2 69.1 397.7 71C399.2 72.8 400.3 74.8 400.8 76.6C401.3 78.5 401.2 80.3 400.6 81.9Z" fill="none" stroke="#fff" stroke-width="0.85"/><path d="M398.8 79.7C398.3 80.9 397.4 82.1 396.2 82.9C395 83.7 393.3 84.3 391.6 84.6C389.8 84.9 387.6 84.9 385.5 84.6C383.5 84.4 381.1 83.8 379.1 83C377 82.2 374.9 81.1 373.1 80C371.4 78.8 369.8 77.4 368.7 76C367.5 74.6 366.7 73 366.3 71.6C365.9 70.2 366 68.7 366.4 67.6C366.9 66.4 367.8 65.2 369 64.4C370.2 63.6 371.9 63 373.6 62.7C375.4 62.4 377.6 62.4 379.7 62.7C381.7 62.9 384.1 63.5 386.1 64.3C388.2 65.1 390.3 66.2 392.1 67.3C393.8 68.5 395.4 69.9 396.5 71.3C397.7 72.7 398.5 74.3 398.9 75.7C399.3 77.1 399.2 78.6 398.8 79.7Z" fill="none" stroke="#fff" stroke-width="0.85"/><path d="M396.9 77.6C396.6 78.4 396 79.2 395.1 79.8C394.3 80.3 393.2 80.8 391.9 81C390.7 81.2 389.2 81.2 387.8 81.1C386.4 80.9 384.8 80.5 383.3 80C381.9 79.4 380.5 78.7 379.3 77.8C378.1 77 377 76 376.2 75.1C375.4 74.1 374.8 73 374.6 72C374.3 71.1 374.3 70 374.7 69.2C375 68.4 375.6 67.6 376.5 67C377.3 66.5 378.4 66 379.7 65.8C380.9 65.6 382.4 65.6 383.8 65.7C385.2 65.9 386.8 66.3 388.3 66.8C389.7 67.4 391.1 68.1 392.3 69C393.5 69.8 394.6 70.8 395.4 71.7C396.2 72.7 396.8 73.8 397 74.8C397.3 75.7 397.3 76.8 396.9 77.6Z" fill="none" stroke="#fff" stroke-width="0.85"/><path d="M395.1 75.4C394.9 75.9 394.5 76.4 394.1 76.7C393.6 77 393 77.3 392.3 77.4C391.6 77.5 390.8 77.6 390 77.5C389.2 77.4 388.4 77.2 387.6 76.9C386.8 76.6 386 76.2 385.4 75.7C384.7 75.3 384.1 74.7 383.7 74.2C383.3 73.6 383 73 382.8 72.5C382.7 71.9 382.7 71.3 382.9 70.9C383.1 70.4 383.5 69.9 383.9 69.6C384.4 69.3 385 69 385.7 68.9C386.4 68.8 387.2 68.7 388 68.8C388.8 68.9 389.6 69.1 390.4 69.4C391.2 69.7 392 70.1 392.6 70.6C393.3 71 393.9 71.6 394.3 72.1C394.7 72.7 395 73.3 395.2 73.8C395.3 74.4 395.3 75 395.1 75.4Z" fill="none" stroke="#fff" stroke-width="0.85"/><path d="M332 79C334.2 79.2 340.3 79.3 345 80.5C349.7 81.7 355 84.1 360 86C365 87.9 370.6 90.6 375 92C379.4 93.4 382.5 94.5 386.3 94.5C390.1 94.5 394.1 93.8 398 92C401.9 90.2 405.7 87.3 410 84C414.3 80.7 419.7 75.9 424 72C428.3 68.1 432.3 64.7 436 60.5C439.7 56.3 443.3 52.1 446 47C448.7 41.9 450.7 35.8 452 30C453.3 24.2 453.6 17 454 12C454.4 7 454.4 2 454.5 0" fill="none" stroke="#fff" stroke-width="0.85"/><path d="M332 74C333.3 73.2 337.7 71.3 340 69C342.3 66.7 344 62.8 346 60C348 57.2 349.7 53.8 352 52C354.3 50.2 356.4 49.8 359.7 49C363 48.2 367.3 47.8 372 47.5C376.7 47.2 383 47.6 388 47C393 46.4 397.5 45.7 402 44C406.5 42.3 410.7 39.8 415 37C419.3 34.2 424.3 30.5 428 27C431.7 23.5 434.8 19.7 437 16C439.2 12.3 440.2 7.7 441 5C441.8 2.3 441.8 0.8 442 0" fill="none" stroke="#fff" stroke-width="0.85"/><path d="M398 80.5C399.8 80.1 405.2 79.1 409 78C412.8 76.9 416.7 75.8 420.5 74C424.3 72.2 428.4 69.9 431.8 67.2C435.2 64.5 438.6 61.4 440.9 58C443.2 54.6 444.3 50.4 445.4 46.6C446.5 42.8 447.2 36.9 447.6 35" fill="none" stroke="#fff" stroke-width="0.8"/><path d="M398.3 83.4C400.1 83 405.3 82 409 80.9C412.7 79.8 416.7 78.6 420.5 76.8C424.3 75 428.4 72.6 431.8 70C435.2 67.4 438.6 64.3 440.9 61C443.2 57.7 444.3 53.7 445.4 50C446.5 46.3 447.2 40.7 447.6 38.8" fill="none" stroke="#fff" stroke-width="0.8"/><path d="M398.6 86.3C400.3 85.9 405.4 84.9 409 83.8C412.6 82.7 416.7 81.4 420.5 79.6C424.3 77.8 428.4 75.4 431.8 72.8C435.2 70.2 438.6 67.2 440.9 64C443.2 60.8 444.3 57 445.4 53.4C446.5 49.8 447.2 44.4 447.6 42.6" fill="none" stroke="#fff" stroke-width="0.8"/><path d="M398.9 89.2C400.6 88.8 405.4 87.8 409 86.7C412.6 85.6 416.7 84.2 420.5 82.4C424.3 80.6 428.4 78.2 431.8 75.6C435.2 73 438.6 70.1 440.9 67C443.2 63.9 444.3 60.2 445.4 56.8C446.5 53.4 447.2 48.1 447.6 46.4" fill="none" stroke="#fff" stroke-width="0.8"/><path d="M399.2 92.1C400.8 91.7 405.4 90.8 409 89.6C412.6 88.4 416.7 87.1 420.5 85.2C424.3 83.3 428.4 80.9 431.8 78.4C435.2 75.9 438.6 73 440.9 70C443.2 67 444.3 63.5 445.4 60.2C446.5 56.9 447.2 51.9 447.6 50.2" fill="none" stroke="#fff" stroke-width="0.8"/><path d="M399.5 95C401.1 94.6 405.5 93.7 409 92.5C412.5 91.3 416.7 89.9 420.5 88C424.3 86.1 428.4 83.7 431.8 81.2C435.2 78.7 438.6 75.9 440.9 73C443.2 70.1 444.3 66.8 445.4 63.6C446.5 60.4 447.2 55.6 447.6 54" fill="none" stroke="#fff" stroke-width="0.8"/><path d="M399.8 97.9C401.3 97.5 405.6 96.6 409 95.4C412.4 94.2 416.7 92.7 420.5 90.8C424.3 88.9 428.4 86.5 431.8 84C435.2 81.5 438.6 78.8 440.9 76C443.2 73.2 444.3 70 445.4 67C446.5 64 447.2 59.3 447.6 57.8" fill="none" stroke="#fff" stroke-width="0.8"/><path d="M400.1 100.8C401.6 100.4 405.6 99.5 409 98.3C412.4 97.1 416.7 95.5 420.5 93.6C424.3 91.7 428.4 89.2 431.8 86.8C435.2 84.4 438.6 81.7 440.9 79C443.2 76.3 444.3 73.3 445.4 70.4C446.5 67.5 447.2 63.1 447.6 61.6" fill="none" stroke="#fff" stroke-width="0.8"/><path d="M332 95C335 94.5 343.7 92.2 350 92C356.3 91.8 363.3 92.6 370 93.5C376.7 94.4 383.3 96.5 390 97.5C396.7 98.5 403.3 99.5 410 99.6C416.7 99.7 423.8 99.1 430 98C436.2 96.9 444.2 93.8 447 93" fill="none" stroke="#fff" stroke-width="0.85"/><path d="M336 100.6C338.7 100.3 345.5 98.9 352 98.6C358.5 98.3 367.8 98.5 375 99C382.2 99.5 386.7 100.9 395 101.6C403.3 102.3 416.3 103.5 425 103.2C433.7 102.9 443.3 100.5 447 100" fill="none" stroke="#fff" stroke-width="0.85" stroke-dasharray="3 1.5"/><path d="M332 38C334.4 37.8 341.5 37.3 346.7 37C351.9 36.7 357.8 36.8 363.4 36.2C368.9 35.7 375 34.8 380 33.7C385 32.6 390.6 30.5 393.4 29.5C396.2 28.5 397.1 28.7 396.8 27.9C396.5 27.1 393.5 26 391.8 24.5C390.1 23 388.1 21.1 386.8 18.7C385.6 16.3 384.9 13.4 384.3 10.3C383.7 7.2 383.5 1.7 383.4 0" fill="none" stroke="#fff" stroke-width="1.2"/><path d="M332 45C335 44.9 344.3 44.9 350 44.4C355.7 43.9 361 43.1 366 42C371 40.9 375.8 39.2 380 37.5C384.2 35.8 388.3 33.5 391 32C393.7 30.5 396.2 29.9 396 28.6C395.8 27.3 392 26.1 390 24C388 21.9 385.4 18.7 384 16C382.6 13.3 382 10.7 381.5 8C381 5.3 381.1 1.3 381 0" fill="none" stroke="#fff" stroke-width="0.85"/><path d="M332 33C334.2 33.2 340.7 34.2 345 34.3C349.3 34.4 354.2 34.1 358 33.4C361.8 32.7 365.3 31.4 368 30C370.7 28.6 372.8 26.8 374 25C375.2 23.2 375.7 21.2 375.5 19C375.3 16.8 374.2 14.1 373 12C371.8 9.9 369.8 8 368 6.5C366.2 5 363 3.6 362 3" fill="none" stroke="#fff" stroke-width="0.9" stroke-dasharray="3 1.6"/><path d="M332 29C334.2 29.2 341 30.2 345 30.2C349 30.2 352.8 29.8 356 29C359.2 28.2 362 26.9 364 25.5C366 24.1 367.3 22.2 368 20.5C368.7 18.8 368.7 16.9 368 15C367.3 13.1 365.7 10.7 364 9C362.3 7.3 359 5.7 358 5" fill="none" stroke="#fff" stroke-width="0.9" stroke-dasharray="3 1.6"/><path d="M364 0C364.8 1 367.2 4.3 369 6C370.8 7.7 373.2 8.3 375 10C376.8 11.7 379.2 15 380 16" fill="none" stroke="#fff" stroke-width="0.85" stroke-dasharray="2.4 1.6"/><path d="M370 0C371 1 373.8 4.2 376 6C378.2 7.8 381.8 10.2 383 11" fill="none" stroke="#fff" stroke-width="0.85" stroke-dasharray="2.4 1.6"/><path d="M400 22C401.3 21.2 404.7 18.9 408 17C411.3 15.1 416.7 12.2 420 10.5C423.3 8.8 425.9 7.1 428 7C430.1 6.9 431.3 8.3 432.5 10C433.7 11.7 434.9 14.3 435 17C435.1 19.7 434.3 23.3 433 26C431.7 28.7 429.7 31 427 33C424.3 35 420.5 36.6 417 38C413.5 39.4 409.2 40.7 406 41.5C402.8 42.3 399.3 42.8 398 43" fill="none" stroke="#fff" stroke-width="0.85"/><path d="M400 13.5C401.7 12.8 406.7 10.8 410 9.5C413.3 8.2 417.3 6.6 420 5.5C422.7 4.4 425 3.4 426 3" fill="none" stroke="#fff" stroke-width="0.85"/><path d="M446 0C446.2 2.3 447.2 9.3 447 14C446.8 18.7 446.2 23.7 445 28C443.8 32.3 442.2 36.5 440 40C437.8 43.5 435.3 46.6 432 49C428.7 51.4 424.5 53 420 54.5C415.5 56 409.7 57.2 405 57.8C400.3 58.4 394.2 58.2 392 58.3" fill="none" stroke="#fff" stroke-width="0.85"/><path d="M329.8 54.6C338.1 54.6 367 54.6 379.8 54.6C392.6 54.6 401.7 54.6 406.8 54.6C411.9 54.6 409.6 54.7 410.6 54.9C411.6 55.1 411.9 55.3 412.6 55.9C413.3 56.5 413.8 57 414.7 58.4C415.6 59.8 416.8 62.2 418 64C419.2 65.8 420.8 67.9 422.1 69.2C423.5 70.5 424.5 71.1 426.1 71.6C427.7 72.1 429.2 72.1 431.8 72.4C434.4 72.7 437.1 72.7 441.5 73.2C445.9 73.8 452.6 75 458.1 75.7C463.7 76.4 469.2 77.2 474.8 77.5C480.4 77.8 486 77.8 491.5 77.7C497 77.7 503.1 77.4 507.8 77.2C512.5 77 514.5 76.9 519.8 76.7C525.1 76.5 531.8 76.2 539.8 75.8C547.8 75.4 563.1 74.8 567.8 74.6" fill="none" stroke="#000" stroke-width="1.7"/><path d="M403.8 54.6C404.3 54.6 405.7 54.6 406.8 54.6C407.9 54.6 409 54.6 410.2 54.6C411.4 54.6 413.2 54.7 414.2 54.9C415.2 55.1 415.7 55.4 416.4 56C417.1 56.6 417.7 57.3 418.6 58.6C419.5 59.9 420.6 62 421.6 63.6C422.6 65.2 423.5 67.1 424.4 68.4C425.3 69.7 425.6 70.5 427.2 71.2C428.8 71.9 431.4 72.4 433.8 72.8C436.2 73.2 437.4 73 441.5 73.5C445.6 74 452.6 75.3 458.1 76C463.7 76.7 469.2 77.5 474.8 77.9C480.4 78.3 485.7 78.1 491.5 78.2C497.3 78.3 503.4 78.3 509.8 78.4C516.2 78.5 520.1 78.5 529.8 78.6C539.5 78.7 561.5 78.8 567.8 78.8" fill="none" stroke="#000" stroke-width="1.55" stroke-dasharray="1.5 0.9"/><g transform="translate(359.7 55.3) rotate(70)"><rect x="-2.9" y="-3.6" width="5.9" height="7.2" fill="#fff"/><text x="0" y="2.6" font-size="7.2" text-anchor="middle" stroke="none" style="stroke:none">5</text></g><g transform="translate(363.4 70.8) rotate(75)"><rect x="-5" y="-3.6" width="10" height="7.2" fill="#fff"/><text x="0" y="2.6" font-size="7.2" text-anchor="middle" stroke="none" style="stroke:none">15</text></g><g transform="translate(386.4 91.8) rotate(20)"><rect x="-5" y="-3.6" width="10" height="7.2" fill="#fff"/><text x="0" y="2.6" font-size="7.2" text-anchor="middle" stroke="none" style="stroke:none">10</text></g><g transform="translate(403.4 87.4) rotate(-8)"><rect x="-5" y="-3.6" width="10" height="7.2" fill="#fff"/><text x="0" y="2.6" font-size="7.2" text-anchor="middle" stroke="none" style="stroke:none">20</text></g><g transform="translate(440 60.8) rotate(55)"><rect x="-5" y="-3.6" width="10" height="7.2" fill="#fff"/><text x="0" y="2.6" font-size="7.2" text-anchor="middle" stroke="none" style="stroke:none">25</text></g><g transform="translate(526.8 55.7) rotate(-35)"><rect x="-5" y="-3.6" width="10" height="7.2" fill="#fff"/><text x="0" y="2.6" font-size="7.2" text-anchor="middle" stroke="none" style="stroke:none">15</text></g><g transform="translate(535.6 40.5) rotate(-55)"><rect x="-5" y="-3.6" width="10" height="7.2" fill="#fff"/><text x="0" y="2.6" font-size="7.2" text-anchor="middle" stroke="none" style="stroke:none">20</text></g><g transform="translate(557.5 40) rotate(-60)"><rect x="-2.9" y="-3.6" width="5.9" height="7.2" fill="#fff"/><text x="0" y="2.6" font-size="7.2" text-anchor="middle" stroke="none" style="stroke:none">5</text></g><g transform="translate(501.8 80.3) rotate(-35)"><rect x="-5" y="-3.6" width="10" height="7.2" fill="#fff"/><text x="0" y="2.6" font-size="7.2" text-anchor="middle" stroke="none" style="stroke:none">10</text></g><g transform="translate(499 97.4) rotate(-25)"><rect x="-2.9" y="-3.6" width="5.9" height="7.2" fill="#fff"/><text x="0" y="2.6" font-size="7.2" text-anchor="middle" stroke="none" style="stroke:none">5</text></g></g>
<g clip-path="url(#clipc)"><rect x="52.3" y="178.2" width="233.7" height="102.1" fill="#C2F8FD"/><path d="M131.6 284C131.3 282.5 130.4 277.7 130 275C129.6 272.3 129.3 270.2 129.3 268C129.3 265.8 129.7 263.7 130.2 262C130.7 260.3 131.8 259.3 132.5 257.6C133.2 255.9 133.8 253.8 134.5 252C135.2 250.2 135.8 248.8 136.6 247.1C137.3 245.3 138.1 243.2 139 241.5C139.9 239.8 140.9 238.3 141.9 236.7C142.9 235.1 144 233.4 145 232C146 230.6 147 229.6 148.1 228.4C149.2 227.2 150.4 226.1 151.5 225C152.6 223.9 153.4 223.3 154.4 222.1C155.4 220.8 156.6 219.2 157.5 217.5C158.4 215.8 159.3 213.8 160 212C160.7 210.2 161.4 208.5 161.8 207C162.2 205.5 162.3 203.7 162.4 203L292 203L292 284Z" fill="#FFE777"/><path d="M46 176C46 185.2 44.9 221.5 46 231C47.1 240.5 50.4 231.2 52.5 232.8C54.6 234.5 56.4 238.8 58.4 240.9C60.4 243 62.4 244.1 64.5 245.5C66.6 246.9 69.1 247.6 70.9 249.2C72.7 250.8 74.1 252.9 75.5 255C76.9 257.1 78.2 259.9 79.2 261.8C80.2 263.7 80.6 265.1 81.3 266.5C82 267.9 82.5 269.2 83.4 270.1C84.4 271 85.6 271.6 87 272C88.4 272.4 90 272.5 91.8 272.4C93.6 272.3 95.9 272 98 271.6C100.1 271.2 102 270.7 104.3 270.1C106.6 269.5 109.2 268.7 111.6 267.8C114 266.9 116.8 265.8 118.9 264.9C121.1 264 122.8 263.2 124.5 262.3C126.2 261.4 128 260.6 129.3 259.2C130.6 257.8 131.5 255.9 132.4 254C133.3 252.1 134.1 250 135 248C135.9 246 136.9 244 138 242C139.1 240 140.3 237.8 141.5 236C142.7 234.2 143.7 232.8 145 231.2C146.3 229.6 148.2 227.9 149.5 226.5C150.8 225.1 151.9 223.9 153 222.6C154.1 221.3 155.1 220.1 156 218.6C156.9 217.1 157.9 215.3 158.6 213.6C159.3 211.9 159.9 209.8 160.2 208.4C160.5 207 160.7 205.9 160.4 205C160.1 204.1 159.6 203.8 158.2 203.2C156.8 202.6 153.7 201.9 152 201.2C150.3 200.5 149.4 200.1 148.2 199.2C147 198.3 145.9 197.3 145 196C144.1 194.7 143.3 193.2 142.6 191.5C141.9 189.8 141.3 187.6 140.8 185.7C140.3 183.8 139.9 181.9 139.6 180C139.3 178.1 139.1 175 139 174L46 174Z" fill="#A4E9FF"/><path d="M46 176C46 184.8 45 220 46 229C47 238 50.2 229.4 52 230.2C53.8 231 55.2 232.8 56.5 234C57.8 235.2 58.8 236.5 60 237.6C61.2 238.7 62.2 239.6 63.5 240.6C64.8 241.6 66 242.4 67.6 243.4C69.2 244.4 71.3 245.2 73 246.6C74.7 247.9 76.2 249.7 77.6 251.5C79 253.3 80.2 255.8 81.3 257.6C82.4 259.5 83.1 261 84 262.6C84.9 264.2 85.5 266 86.5 267C87.5 268 88.6 268.4 89.8 268.8C91 269.2 92.1 269.3 93.8 269.1C95.5 268.9 97.9 268.3 100 267.8C102.1 267.3 104.3 266.6 106.4 265.9C108.5 265.2 110.5 264.4 112.6 263.5C114.7 262.6 116.9 261.7 118.9 260.7C120.9 259.7 122.9 258.6 124.8 257.4C126.7 256.2 129 254.9 130.4 253.4C131.8 251.9 132.5 250.1 133.4 248.4C134.3 246.7 134.7 244.8 135.6 243C136.5 241.2 137.5 239.3 138.6 237.6C139.7 235.8 140.8 234.1 141.9 232.5C143 230.9 144.2 229.4 145.4 228C146.6 226.6 147.8 225.3 149 224C150.2 222.7 151.5 221.5 152.6 220.2C153.7 218.9 154.8 217.5 155.6 216C156.4 214.5 157.1 212.6 157.6 211.2C158.1 209.8 158.5 208.5 158.8 207.4C159.1 206.3 159.3 205.5 159.2 204.8C159.1 204.1 159.2 203.8 157.9 203.2C156.7 202.6 153.4 201.9 151.8 201.2C150.1 200.5 149.1 200.1 147.9 199.2C146.8 198.3 145.7 197.3 144.8 196C143.8 194.7 143 193.2 142.3 191.5C141.7 189.8 141.1 187.6 140.6 185.7C140.1 183.8 139.7 181.9 139.3 180C139 178.1 138.8 175 138.8 174L46 174Z" fill="#8AD0FF"/><path d="M78 176C77.3 179.2 75.5 190.6 74 195C72.5 199.4 70.5 200.6 68.8 202.7C67.1 204.8 64.9 205.4 63.6 207.4C62.3 209.4 61.5 211.9 61 214.7C60.5 217.5 60.3 221.2 60.4 224.1C60.5 227 60.8 229.9 61.5 232C62.2 234.1 63.2 235.2 64.5 236.6C65.8 238 67.2 239.4 69 240.5C70.8 241.6 73.2 242.2 75 243.4C76.8 244.6 78.6 245.9 80 247.6C81.4 249.3 82.5 251.6 83.6 253.6C84.7 255.6 85.5 257.9 86.4 259.6C87.3 261.3 87.9 262.7 89 263.6C90.1 264.5 91.5 264.9 92.8 265.2C94.1 265.5 95.3 265.7 97 265.6C98.7 265.5 100.9 264.9 103 264.4C105.1 263.9 107.6 263.2 109.8 262.4C112 261.6 114.3 260.5 116.4 259.4C118.5 258.3 120.7 257.2 122.6 255.9C124.5 254.6 126.2 253 127.8 251.4C129.4 249.8 131.2 248 132.3 246.3C133.4 244.6 133.7 242.8 134.2 241C134.7 239.2 134.9 237.2 135.5 235.6C136.1 234 136.9 232.8 137.6 231.6C138.3 230.4 138.8 229.6 139.8 228.4C140.8 227.2 142.2 225.7 143.5 224.4C144.8 223.1 146.2 222 147.5 220.8C148.8 219.6 150.1 218.6 151.2 217.4C152.3 216.2 153.3 214.9 154.2 213.6C155.1 212.3 155.8 210.8 156.4 209.6C157 208.4 157.4 207.5 157.6 206.6C157.8 205.7 157.8 205 157.8 204.4C157.8 203.8 158.8 203.7 157.7 203.2C156.6 202.7 153.2 201.9 151.5 201.2C149.8 200.5 148.9 200.1 147.7 199.2C146.5 198.3 145.4 197.3 144.5 196C143.6 194.7 142.8 193.2 142.1 191.5C141.4 189.8 140.8 187.6 140.3 185.7C139.8 183.8 139.4 181.9 139.1 180C138.8 178.1 138.6 175 138.5 174L78 174Z" fill="#3A9CE4"/><path d="M85 176C84.5 179.2 83.1 190.6 82 195C80.9 199.4 79.5 200.5 78.2 202.7C77 204.9 75.9 205.8 74.5 208C73.1 210.2 71.1 213.4 69.8 215.7C68.5 218 67.4 219.7 66.7 222C66 224.3 65.6 227.3 65.7 229.3C65.8 231.3 66.5 232.6 67.5 234C68.5 235.4 70 236.8 71.5 238C73 239.2 74.8 240.2 76.5 241.4C78.2 242.6 80 243.5 81.5 245C83 246.5 84.2 248.7 85.4 250.6C86.6 252.5 87.5 254.8 88.4 256.4C89.3 258 90.1 259.1 91 260C91.9 260.9 92.8 261.3 93.8 261.6C94.8 261.9 96 262.1 97.2 262C98.5 261.9 99.7 261.7 101.3 261.3C102.9 260.9 105 260.3 106.8 259.6C108.6 258.9 110.2 257.9 112 257C113.8 256.1 115.7 255.1 117.5 254C119.3 252.9 121 251.9 122.6 250.6C124.2 249.3 125.8 247.6 127.2 246C128.6 244.4 130.2 242.7 131.2 241C132.2 239.3 132.5 237.6 133 236C133.5 234.4 133.9 232.7 134.4 231.4C134.9 230.1 135.4 229 136 228C136.6 227 136.8 226.3 137.7 225.2C138.6 224.1 140.2 222.7 141.6 221.5C143 220.3 144.6 219.3 146 218.2C147.4 217.1 148.6 216.1 149.8 215C151 213.9 152.1 212.6 153 211.4C153.9 210.2 154.6 209 155.2 208C155.8 207 156.2 206.3 156.4 205.6C156.6 204.9 156.3 204.3 156.5 203.9C156.7 203.5 158.3 203.6 157.4 203.2C156.6 202.8 152.9 201.9 151.2 201.2C149.6 200.5 148.6 200.1 147.4 199.2C146.3 198.3 145.2 197.3 144.2 196C143.3 194.7 142.5 193.2 141.8 191.5C141.2 189.8 140.6 187.6 140.1 185.7C139.6 183.8 139.2 181.9 138.8 180C138.5 178.1 138.3 175 138.2 174L85 174Z" fill="#1A90EE"/><path d="M90 176C89.7 179.2 88.9 190.6 88 195C87.1 199.4 85.5 200.1 84.4 202.7C83.3 205.3 82.5 208 81.3 210.5C80.1 213 78.4 215.5 77.1 217.8C75.8 220.1 73.7 222.2 73.5 224.1C73.3 226 75 227.8 76.1 229.3C77.2 230.8 78.9 231.6 80.3 233C81.7 234.4 83.3 236.1 84.6 238C85.9 239.9 87 242.4 88 244.6C89 246.8 89.9 249.2 90.8 251C91.7 252.8 92.5 254.5 93.6 255.6C94.7 256.7 96.1 257.1 97.4 257.4C98.7 257.7 100 257.5 101.6 257.2C103.2 256.9 105.1 256.1 106.8 255.4C108.5 254.7 110.3 253.8 112 252.8C113.7 251.8 115.4 250.7 117 249.6C118.6 248.5 120.2 247.3 121.6 246C123 244.7 124.2 243.2 125.4 241.6C126.6 240 127.7 238.2 128.6 236.6C129.5 235 129.9 233.5 130.6 232C131.3 230.5 131.9 228.9 132.6 227.6C133.3 226.3 133.9 225.2 135 224C136.1 222.8 137.6 221.5 139 220.4C140.4 219.3 142.2 218.2 143.6 217.2C145 216.2 146.4 215.2 147.6 214.2C148.8 213.2 150 212.1 151 211C152 209.9 152.9 208.7 153.6 207.8C154.3 206.9 155 206.1 155.4 205.4C155.8 204.7 155.5 204.1 155.8 203.7C156.1 203.3 158.1 203.6 157.3 203.2C156.5 202.8 152.8 201.9 151.1 201.2C149.5 200.5 148.5 200.1 147.3 199.2C146.2 198.3 145.1 197.3 144.1 196C143.2 194.7 142.4 193.2 141.7 191.5C141 189.8 140.4 187.6 139.9 185.7C139.4 183.8 139 181.9 138.7 180C138.4 178.1 138.2 175 138.1 174L90 174Z" fill="#1284E5"/><path d="M93 176C92.8 179.2 92.5 190.6 92 195C91.5 199.4 90.9 200.5 90.2 202.7C89.5 204.9 89 206.1 88 208C87 209.9 85 211.7 84 214C83 216.3 81.9 220.1 82 221.8C82.1 223.5 83.5 223.7 84.4 224.4C85.3 225.1 86.2 225.4 87.4 226C88.6 226.6 90.2 227.3 91.6 228C93 228.7 95 229 96 230.3C97 231.6 97.1 234.1 97.4 236C97.8 237.9 97.7 240.2 98.1 242C98.5 243.8 99.1 245.2 99.6 246.6C100.1 248 100.5 249.6 101.3 250.6C102.1 251.6 103.3 252.1 104.4 252.4C105.5 252.8 106.4 253 107.7 252.7C109 252.4 110.6 251.3 112 250.4C113.4 249.5 114.8 248.5 116.2 247.4C117.6 246.3 119.2 245.1 120.6 243.8C122 242.6 123.6 241.2 124.8 239.9C126 238.6 126.7 237.2 127.6 235.8C128.5 234.4 129.2 233 130.1 231.4C131 229.8 131.9 227.8 132.8 226C133.7 224.2 134.4 222 135.5 220.7C136.6 219.4 138.1 218.9 139.5 218C140.9 217.1 142.6 216.3 144 215.4C145.4 214.5 146.8 213.6 148 212.6C149.2 211.6 150.4 210.5 151.4 209.6C152.4 208.7 153.2 207.8 153.8 207C154.4 206.2 154.8 205.6 155 205C155.2 204.4 154.8 203.8 155.2 203.5C155.6 203.2 157.9 203.6 157.2 203.2C156.5 202.8 152.7 201.9 151 201.2C149.3 200.5 148.4 200.1 147.2 199.2C146 198.3 144.9 197.3 144 196C143.1 194.7 142.3 193.2 141.6 191.5C140.9 189.8 140.3 187.6 139.8 185.7C139.3 183.8 138.9 181.9 138.6 180C138.3 178.1 138.1 175 138 174L93 174Z" fill="#1078D8"/><path d="M95 176C95 180.5 94.8 197 95 203C95.2 209 95.6 209.4 96 212C96.4 214.6 96.7 216.8 97.4 218.5C98.1 220.2 99 221.1 100 222C101 222.9 102.1 223.5 103.4 223.9C104.7 224.3 106.6 224 108 224.2C109.4 224.4 110.9 224.2 112 225C113.1 225.8 113.7 227.8 114.4 229C115.1 230.2 115.3 231.5 116.2 232.4C117.1 233.3 118.8 234 120 234.4C121.2 234.8 122.4 235 123.7 234.6C125 234.2 126.3 233.1 127.6 232C128.8 230.9 130 229.6 131.2 228.2C132.3 226.8 133.4 225 134.5 223.4C135.6 221.8 136.3 219.9 137.6 218.5C138.8 217.1 140.5 216.1 142 215C143.5 213.9 145.1 213 146.5 212C147.9 211 149.4 209.9 150.5 209C151.6 208.1 152.4 207.3 153 206.4C153.6 205.5 153.3 204.3 154 203.8C154.7 203.3 157.5 203.6 156.9 203.2C156.4 202.8 152.4 201.9 150.8 201.2C149.1 200.5 148.1 200.1 146.9 199.2C145.8 198.3 144.7 197.3 143.8 196C142.8 194.7 142 193.2 141.3 191.5C140.7 189.8 140.1 187.6 139.6 185.7C139.1 183.8 138.7 181.9 138.3 180C138 178.1 137.8 175 137.8 174L95 174Z" fill="#0D6DCE"/><path d="M97.5 176C97.5 180.2 97.4 195.8 97.6 201C97.8 206.2 98 205.5 98.4 207C98.8 208.5 99.7 208.9 100.2 210C100.7 211.1 101.1 212.5 101.6 213.6C102.1 214.7 102.3 215.8 103.4 216.4C104.5 217 106.4 216.8 108 217C109.6 217.2 111.8 216.8 113 217.5C114.2 218.2 114.7 220.2 115.4 221.4C116.1 222.7 116.4 224 117.3 225C118.2 226 119.8 226.9 121 227.6C122.2 228.3 123.3 229.3 124.8 229.2C126.3 229.1 128.2 228.1 129.8 227C131.4 225.9 133 224.2 134.4 222.8C135.8 221.4 137.2 220 138.4 218.6C139.7 217.2 140.6 215.6 141.9 214.3C143.2 213 144.7 212.1 146 211C147.3 209.9 148.9 208.9 150 208C151.1 207.1 152.1 206.4 152.6 205.6C153.1 204.8 152.5 203.8 153.2 203.4C153.9 203 157.1 203.6 156.7 203.2C156.2 202.8 152.2 201.9 150.5 201.2C148.8 200.5 147.9 200.1 146.7 199.2C145.5 198.3 144.4 197.3 143.5 196C142.6 194.7 141.8 193.2 141.1 191.5C140.4 189.8 139.8 187.6 139.3 185.7C138.8 183.8 138.4 181.9 138.1 180C137.8 178.1 137.6 175 137.5 174L97.5 174Z" fill="#0762C4"/><path d="M169.5 205.2C169.7 205.8 170.7 207.2 170.5 208.5C170.3 209.8 169.2 211.6 168.6 213C167.9 214.4 167.6 216.3 166.6 217.2C165.6 218.1 163.9 218 162.5 218.6C161.1 219.2 159.7 219.5 158.4 220.6C157.2 221.7 155.8 223.4 155 225C154.2 226.6 153.8 228.3 153.4 230C153 231.7 152.8 233.3 152.6 235C152.4 236.7 152.1 238.3 152 240C151.9 241.7 151.9 243.6 152.2 245.1C152.5 246.6 153.1 248.1 153.8 249.2C154.6 250.2 155.4 251.1 156.7 251.4C158 251.7 159.9 251.1 161.6 250.8C163.3 250.5 165.1 249.6 166.7 249.6C168.3 249.6 169.5 250.2 171 250.6C172.5 251 174.2 252 175.6 252C177 252 178.5 251.4 179.6 250.4C180.7 249.4 181.4 247.7 182 246C182.6 244.3 182.7 241.8 183 240C183.3 238.2 183.6 236.5 184 235C184.4 233.5 184.8 232.5 185.4 231C186 229.5 186.7 227.7 187.4 226C188.1 224.3 188.7 222.7 189.4 221C190.1 219.3 191 217.7 191.4 216C191.8 214.3 191.9 211.8 192 211L192 204Z" fill="#FFC250"/><path d="M170.6 205.4C170.9 206 172.4 207.6 172.6 209C172.8 210.4 172.1 212.2 172 214C171.9 215.8 171.8 217.7 171.8 220C171.8 222.3 171.9 225.3 172 228C172.1 230.7 172.3 233.3 172.6 236C172.9 238.7 173.1 241.7 173.6 244C174.1 246.3 174.8 248.7 175.6 249.6C176.4 250.5 177.7 250.2 178.6 249.4C179.5 248.6 180.3 246.5 180.8 244.6C181.3 242.7 181.4 239.9 181.8 238C182.2 236.1 182.5 234.4 183 233C183.5 231.6 184.3 230.8 185 229.4C185.7 228 186.5 226.1 187.2 224.4C187.9 222.7 188.4 221 189 219.4C189.6 217.8 190.2 216.4 190.6 215C191 213.6 191.1 211.7 191.2 211L191.2 204Z" fill="#FFAC2C"/><path d="M171.2 205.6C171.5 206.2 172.9 207.9 173.2 209.4C173.5 210.9 172.8 212.8 172.8 214.6C172.8 216.4 172.9 218.1 173.2 220C173.5 221.9 174.1 224.2 174.8 226C175.5 227.8 176.5 229.9 177.4 231C178.3 232.1 179.3 232.5 180.2 232.4C181.1 232.3 182.2 231.4 183 230.6C183.8 229.8 184.5 228.6 185.2 227.4C185.9 226.2 186.6 224.8 187.2 223.4C187.8 222 188.4 220.4 189 219C189.6 217.6 190.2 216.3 190.6 215C191 213.7 191.1 211.7 191.2 211L191.2 204Z" fill="#FFA010"/><path d="M170.6 205.6C171.1 206.2 173 207.9 173.4 209.4C173.8 210.9 173 212.8 173 214.6C173 216.4 173.1 218.2 173.6 220C174.1 221.8 174.8 224.1 175.8 225.6C176.8 227.1 178.2 228.6 179.4 229C180.6 229.4 182.1 228.9 183.2 228C184.3 227.1 185 225.2 185.8 223.6C186.6 222 187.2 220.2 187.8 218.6C188.4 217 189.2 215.5 189.6 214.2C190 212.9 190.3 211.2 190.4 210.6L190.4 204Z" fill="#FF6C0A"/><path d="M172.6 206C173 206.6 174.5 208.2 175 209.6C175.5 211 175.1 212.9 175.4 214.6C175.7 216.3 176 218.2 176.6 219.8C177.2 221.4 178.1 223.4 179 224.4C179.9 225.4 181.2 226.1 182.2 225.6C183.2 225.1 184 223 184.8 221.6C185.6 220.2 186.2 218.4 186.8 217C187.4 215.6 188.2 214.3 188.6 213.2C189 212.1 189.3 210.9 189.4 210.4L189.4 204Z" fill="#F84008"/><path d="M174.4 206.4C174.8 207 176.1 208.5 176.6 209.8C177.1 211.1 177.2 212.6 177.6 214.2C178 215.8 178.5 217.8 179.2 219.2C179.9 220.6 180.8 222.3 181.6 222.4C182.4 222.5 183.1 220.8 183.8 219.6C184.5 218.4 185.2 216.5 185.8 215.2C186.4 213.9 187.2 212.8 187.6 212C188 211.2 188.3 210.5 188.4 210.2L188.4 204Z" fill="#E61A0A"/><path d="M176.4 206.8C176.8 207.3 178 208.8 178.6 210C179.2 211.2 179.3 212.7 179.8 214C180.3 215.3 180.9 216.9 181.4 217.8C181.9 218.7 182.3 219.4 182.8 219.2C183.3 219 183.9 217.4 184.4 216.4C184.9 215.4 185.5 214.1 186 213.2C186.5 212.3 187 211.4 187.2 211L187.2 204Z" fill="#A40808"/><path d="M141 256C141.8 255.3 143.4 255.2 144.4 255.6C145.4 256 146.4 257 146.8 258.4C147.2 259.8 147.1 262.1 146.9 264C146.7 265.9 146.4 268.2 145.8 269.6C145.2 271 144.2 272.4 143.4 272.6C142.6 272.8 141.4 272.3 140.8 271C140.2 269.7 139.8 266.9 139.6 265C139.4 263.1 139.6 261.1 139.8 259.6C140 258.1 140.2 256.7 141 256Z" fill="#FFC250"/><path d="M151.6 284C151.8 282.9 152.2 278.8 153 277.4C153.8 276 155.3 275.5 156.4 275.4C157.5 275.3 158.7 275.6 159.4 277C160.1 278.4 160.2 282.8 160.4 284Z" fill="#FFC250"/><path d="M198.5 232C198.3 234 197.7 240 197.4 244C197.2 248 197 252 197 256C197 260 197.1 263.3 197.2 268C197.3 272.7 197.5 281.3 197.6 284L292 284L292 200L204 200L204.4 214L202.4 224Z" fill="#FFC250"/><path d="M207.4 216C207.8 217.3 208.4 221.2 209.6 224C210.8 226.8 213 230.4 214.3 232.7C215.6 235 216.5 235.9 217.6 237.6C218.7 239.3 219.8 240.7 221 242.7C222.2 244.7 223.6 247.2 225 249.4C226.4 251.6 228 253.8 229.3 256C230.6 258.2 231.7 260.6 232.8 262.8C233.9 265 235.2 267.3 236 269.4C236.8 271.5 237.2 273 237.8 275.4C238.4 277.8 239.1 282.6 239.3 284L292 284L292 200L207 200Z" fill="#FFA010"/><path d="M209.4 214C210 215.2 211.3 218.8 213 221.4C214.7 224 217.5 227.2 219.3 229.3C221.1 231.4 222.2 232.5 223.6 234.2C225 235.9 226.3 237.5 227.7 239.3C229.1 241.1 230.4 243.2 231.8 245.2C233.2 247.1 234.7 249.1 236 251C237.3 252.9 238.3 254.9 239.4 256.8C240.5 258.8 241.8 260.3 242.7 262.7C243.6 265.1 244 267.4 244.6 271C245.2 274.6 245.8 281.8 246 284L292 284L292 200L209 200Z" fill="#FF6C0A"/><path d="M211 213.4C211.8 214.6 213.7 218.1 215.6 220.6C217.5 223.1 220.7 226.4 222.7 228.5C224.7 230.6 226.1 231.5 227.8 233C229.5 234.5 231.1 236.3 232.7 237.7C234.3 239.1 235.9 240.1 237.6 241.2C239.3 242.3 240.9 243.6 242.7 244.4C244.5 245.2 246.5 245.5 248.4 245.8C250.3 246.1 251.9 246.1 254.3 246C256.7 245.9 259.8 245.5 262.6 245.2C265.4 244.9 268.4 244.3 271 244.4C273.6 244.5 274.9 244.9 278.4 245.6C281.9 246.3 289.7 247.9 292 248.4L292 200L211 200Z" fill="#F84008"/><path d="M212.4 213.2C213.3 214.4 215.7 217.8 218 220.4C220.3 223 223.8 226.6 226 228.5C228.2 230.4 229.3 230.9 231 232C232.7 233.1 234.3 234.3 236 235.2C237.7 236.1 239.3 236.9 241 237.6C242.7 238.3 243.8 239 246 239.4C248.2 239.8 251.5 239.8 254.3 239.8C257.1 239.8 259.4 239.4 262.7 239.4C266 239.4 269.1 239.5 274 239.8C278.9 240.1 289 241 292 241.2L292 200L212 200Z" fill="#E61A0A"/><path d="M213.6 213C214.7 214.3 217.8 218 220.4 220.6C223 223.2 226.7 226.7 229 228.5C231.3 230.3 232.5 230.6 234.2 231.4C235.9 232.2 237.2 232.9 239.3 233.5C241.4 234.1 244.3 234.8 246.8 235.2C249.3 235.6 250.4 235.9 254.3 236C258.2 236.1 263.7 236 270 236C276.3 236 288.3 236 292 236L292 200L213.6 200Z" fill="#C80A08"/><path d="M214.6 213C215.9 214.3 219.6 218.3 222.4 220.8C225.2 223.3 229 226.2 231.4 227.8C233.8 229.4 234.7 229.5 236.6 230.2C238.5 230.9 240.1 231.5 243 232C245.9 232.5 249.8 233 254.3 233.2C258.8 233.4 263.7 233.2 270 233.2C276.3 233.2 288.3 233.2 292 233.2L292 200L214.6 200Z" fill="#A40808"/><path d="M247.7 255C248 253.8 248.9 252.1 250 251.2C251.1 250.3 252.6 249.6 254 249.4C255.4 249.2 257.3 249.3 258.6 249.8C259.9 250.3 261.3 251.3 262 252.4C262.7 253.5 263 255 262.7 256.2C262.4 257.4 261.5 258.8 260.4 259.6C259.3 260.4 257.5 260.9 256 261C254.5 261.1 252.5 260.7 251.2 260.2C249.9 259.7 249 259.1 248.4 258.2C247.8 257.3 247.4 256.2 247.7 255Z" fill="#FFA010"/><path d="M139.9 174C140 175 140.4 178 140.7 180C141 181.9 141.3 183.9 141.8 185.7C142.3 187.4 142.9 189 143.5 190.5C144.1 191.9 144.7 193.2 145.4 194.4C146.2 195.5 147 196.5 147.8 197.4C148.6 198.2 149.4 198.8 150.4 199.4C151.4 199.9 152.5 200.2 153.8 200.5C155.1 200.9 156.7 201.1 158.3 201.4C159.8 201.7 162.4 202.1 163.2 202.3L176 196L176 170Z" fill="#8AD0FF"/><path d="M141.4 174C141.5 175 141.9 178 142.2 180C142.5 181.9 142.8 183.9 143.2 185.7C143.7 187.4 144.3 189 144.8 190.4C145.4 191.9 146 193.2 146.7 194.3C147.4 195.4 148.1 196.4 148.9 197.2C149.7 198 150.3 198.6 151.3 199.1C152.2 199.6 153.2 199.9 154.5 200.2C155.7 200.5 157.2 200.8 158.6 201C160.1 201.3 162.4 201.6 163.2 201.8L176 196L176 170Z" fill="#C2F8FD"/><path d="M142.8 174C142.9 175 143.3 178 143.6 180C143.9 181.9 144.2 183.9 144.6 185.7C145 187.4 145.6 189 146.1 190.4C146.7 191.8 147.2 193.1 147.9 194.2C148.5 195.3 149.2 196.3 149.9 197.1C150.6 197.9 151.2 198.5 152.1 198.9C152.9 199.4 153.9 199.7 155.1 200C156.2 200.2 157.6 200.4 158.9 200.6C160.3 200.9 162.5 201.2 163.2 201.3L176 196L176 170Z" fill="#FFE777"/><path d="M144.1 174C144.2 175 144.6 178 144.9 180C145.2 181.9 145.4 183.9 145.8 185.6C146.2 187.4 146.8 188.9 147.3 190.4C147.8 191.8 148.3 193 148.9 194.1C149.5 195.2 150.2 196.2 150.9 197C151.5 197.7 152.1 198.3 152.9 198.8C153.6 199.2 154.5 199.4 155.6 199.7C156.7 199.9 158 200.1 159.2 200.3C160.5 200.5 162.5 200.7 163.2 200.8L176 196L176 170Z" fill="#FFA010"/><path d="M145.3 174C145.4 175 145.8 178 146.1 180C146.3 181.9 146.6 183.9 147 185.6C147.4 187.4 147.9 188.9 148.4 190.3C148.9 191.7 149.4 193 149.9 194.1C150.5 195.2 151.1 196.1 151.7 196.9C152.3 197.6 152.8 198.1 153.6 198.6C154.3 199 155.1 199.2 156.1 199.5C157.1 199.7 158.3 199.8 159.5 200C160.7 200.1 162.6 200.3 163.2 200.4L176 196L176 170Z" fill="#F84008"/><path d="M146.4 174C146.5 175 146.9 178 147.1 180C147.4 181.9 147.7 183.9 148.1 185.6C148.4 187.3 148.9 188.9 149.4 190.3C149.9 191.7 150.3 192.9 150.9 194C151.4 195.1 152 196 152.5 196.7C153.1 197.5 153.5 198 154.2 198.4C154.9 198.8 155.7 199 156.6 199.2C157.5 199.4 158.7 199.5 159.8 199.7C160.9 199.8 162.6 200 163.2 200L176 196L176 170Z" fill="#C80A08"/><path d="M147.5 174C147.6 175 148 178 148.2 180C148.5 181.9 148.8 183.9 149.1 185.6C149.5 187.3 150 188.9 150.4 190.3C150.8 191.6 151.3 192.9 151.8 193.9C152.3 195 152.8 195.9 153.3 196.6C153.8 197.4 154.2 197.9 154.9 198.3C155.5 198.7 156.2 198.8 157.1 199C157.9 199.2 159 199.3 160 199.4C161 199.5 162.1 198.9 163.2 199.6C164.3 200.3 163.9 202.4 166.7 203.6C169.5 204.8 176.4 205.9 180 206.9C183.6 207.9 186.7 209 188 209.4L190 190L292 190L292 170Z" fill="#860000"/><path d="M190 210.8C191 211.1 193.7 212.2 196 212.6C198.3 213 201.3 213.4 204 213.4C206.7 213.4 210 212.4 212 212.8C214 213.2 215.1 214.2 216 215.6C216.9 217 217 219.2 217.7 221C218.4 222.8 218.9 224.8 220 226.4C221.1 228 222.5 229.5 224.3 230.6C226.1 231.7 228.8 232.3 231 232.8C233.2 233.3 235.2 233.5 237.7 233.6C240.2 233.7 243.2 233.6 246 233.4C248.8 233.2 251.5 233 254.3 232.7C257.1 232.4 259.8 232.1 262.6 231.8C265.4 231.5 266.1 231.1 271 231C275.9 230.9 288.5 231 292 231L292 190L186 190Z" fill="#860000"/><path d="M189.6 220C188.1 221.3 189.7 224 190 226C190.3 228 190.6 230.2 191.2 232C191.8 233.8 192.6 235.4 193.4 237C194.2 238.6 195.4 241.3 196.3 241.6C197.2 241.9 198.1 239.7 199 238.6C199.9 237.5 200.9 236.3 201.8 235C202.7 233.7 203.7 232.5 204.6 231C205.5 229.5 206.4 227.7 207 226C207.6 224.3 209.5 221.9 208.2 220.6C206.9 219.3 202.1 218.1 199 218C195.9 217.9 191.1 218.7 189.6 220Z" fill="#C2F8FD"/><path d="M191 220C189.8 221.4 191.2 224.6 191.6 226.6C192 228.6 192.4 230.1 193.2 232C194 233.9 195.3 237.4 196.3 237.8C197.3 238.2 198.2 235.5 199.2 234.2C200.1 232.9 201.1 231.5 202 230C202.9 228.5 203.9 227 204.6 225.4C205.3 223.8 206.9 221.6 206 220.4C205.1 219.2 201.5 218.1 199 218C196.5 217.9 192.2 218.6 191 220Z" fill="#A4E9FF"/><path d="M192.6 220C191.9 221.3 193 224.1 193.6 226C194.2 227.9 195.4 231.1 196.4 231.4C197.4 231.7 198.6 229 199.6 227.6C200.6 226.2 201.9 224.3 202.6 223C203.3 221.7 204.6 220.4 203.8 219.6C203 218.8 199.9 217.9 198 218C196.1 218.1 193.3 218.7 192.6 220Z" fill="#8AD0FF"/><clipPath id="domec"><path d="M176 205.9L180 207L186 209.2L191.7 211.3L197 212.6L201.7 213.1L207 213.1L213.3 212.6L220 211.3L220 190L176 190Z"/></clipPath><g clip-path="url(#domec)"><path d="M210.8 216.4C210.8 218.7 210.4 221.2 209.8 223.4C209.2 225.5 208.1 227.6 206.9 229.3C205.7 230.9 204.2 232.3 202.7 233.2C201.1 234.1 199.3 234.6 197.6 234.6C195.9 234.6 194.1 234.1 192.5 233.2C191 232.3 189.5 230.9 188.3 229.3C187.1 227.6 186 225.5 185.4 223.4C184.8 221.2 184.4 218.7 184.4 216.4C184.4 214.1 184.8 211.6 185.4 209.4C186 207.3 187.1 205.2 188.3 203.5C189.5 201.9 191 200.5 192.5 199.6C194.1 198.7 195.9 198.2 197.6 198.2C199.3 198.2 201.1 198.7 202.7 199.6C204.2 200.5 205.7 201.9 206.9 203.5C208.1 205.2 209.2 207.3 209.8 209.4C210.4 211.6 210.8 214.1 210.8 216.4Z" fill="#A40808"/><path d="M210.1 216.4C210.1 218.6 209.8 221 209.1 223.1C208.5 225.2 207.6 227.2 206.4 228.8C205.3 230.4 203.9 231.7 202.4 232.6C200.9 233.4 199.2 233.9 197.6 233.9C196 233.9 194.3 233.4 192.8 232.6C191.3 231.7 189.9 230.4 188.8 228.8C187.6 227.2 186.7 225.2 186.1 223.1C185.4 221 185.1 218.6 185.1 216.4C185.1 214.2 185.4 211.8 186.1 209.7C186.7 207.6 187.6 205.6 188.8 204C189.9 202.4 191.3 201.1 192.8 200.2C194.3 199.4 196 198.9 197.6 198.9C199.2 198.9 200.9 199.4 202.4 200.2C203.9 201.1 205.3 202.4 206.4 204C207.6 205.6 208.5 207.6 209.1 209.7C209.8 211.8 210.1 214.2 210.1 216.4Z" fill="#C80A08"/><path d="M209.3 216.4C209.3 218.5 209 220.8 208.4 222.8C207.8 224.8 206.9 226.8 205.9 228.3C204.8 229.8 203.5 231.1 202.1 231.9C200.7 232.7 199.1 233.2 197.6 233.2C196.1 233.2 194.5 232.7 193.1 231.9C191.7 231.1 190.4 229.8 189.3 228.3C188.3 226.8 187.4 224.8 186.8 222.8C186.2 220.8 185.9 218.5 185.9 216.4C185.9 214.3 186.2 212 186.8 210C187.4 208 188.3 206 189.3 204.5C190.4 203 191.7 201.7 193.1 200.9C194.5 200.1 196.1 199.6 197.6 199.6C199.1 199.6 200.7 200.1 202.1 200.9C203.5 201.7 204.8 203 205.9 204.5C206.9 206 207.8 208 208.4 210C209 212 209.3 214.3 209.3 216.4Z" fill="#F84008"/><path d="M208.5 216.4C208.5 218.4 208.2 220.6 207.7 222.5C207.1 224.4 206.3 226.3 205.3 227.7C204.3 229.2 203.1 230.4 201.8 231.2C200.5 232 199 232.4 197.6 232.4C196.2 232.4 194.7 232 193.4 231.2C192.1 230.4 190.9 229.2 189.9 227.7C188.9 226.3 188.1 224.4 187.5 222.5C187 220.6 186.7 218.4 186.7 216.4C186.7 214.4 187 212.2 187.5 210.3C188.1 208.4 188.9 206.5 189.9 205.1C190.9 203.6 192.1 202.4 193.4 201.6C194.7 200.8 196.2 200.4 197.6 200.4C199 200.4 200.5 200.8 201.8 201.6C203.1 202.4 204.3 203.6 205.3 205.1C206.3 206.5 207.1 208.4 207.7 210.3C208.2 212.2 208.5 214.4 208.5 216.4Z" fill="#FFA010"/><path d="M207.7 216.4C207.7 218.3 207.4 220.4 206.9 222.2C206.4 224 205.7 225.8 204.7 227.1C203.8 228.5 202.7 229.7 201.5 230.4C200.3 231.2 198.9 231.6 197.6 231.6C196.3 231.6 194.9 231.2 193.7 230.4C192.5 229.7 191.4 228.5 190.5 227.1C189.5 225.8 188.8 224 188.3 222.2C187.8 220.4 187.5 218.3 187.5 216.4C187.5 214.5 187.8 212.4 188.3 210.6C188.8 208.8 189.5 207 190.5 205.7C191.4 204.3 192.5 203.1 193.7 202.4C194.9 201.6 196.3 201.2 197.6 201.2C198.9 201.2 200.3 201.6 201.5 202.4C202.7 203.1 203.8 204.3 204.7 205.7C205.7 207 206.4 208.8 206.9 210.6C207.4 212.4 207.7 214.5 207.7 216.4Z" fill="#FFE777"/></g><path d="M207.5 215.4C207.4 217.1 206.6 218.9 205.9 220.5C205.2 222.1 204.3 223.7 203.4 224.9C202.5 226.1 201.5 227.1 200.5 227.8C199.6 228.4 198.6 228.8 197.6 228.8C196.6 228.8 195.6 228.4 194.7 227.8C193.7 227.1 192.7 226.1 191.8 224.9C190.9 223.7 190 222.1 189.3 220.5C188.6 218.9 187.8 217.1 187.7 215.4C187.6 213.7 188 211.9 188.5 210.3C188.9 208.7 189.7 207.1 190.6 205.9C191.5 204.7 192.6 203.7 193.8 203C195 202.4 196.3 202 197.6 202C198.9 202 200.2 202.4 201.4 203C202.6 203.7 203.7 204.7 204.6 205.9C205.5 207.1 206.3 208.7 206.7 210.3C207.2 211.9 207.6 213.7 207.5 215.4Z" fill="#FFE777"/><path d="M206.9 216.4C206.8 218.2 206.1 220.1 205.5 221.8C204.8 223.4 204 225 203.2 226.3C202.3 227.6 201.4 228.7 200.4 229.3C199.5 230 198.5 230.4 197.6 230.4C196.7 230.4 195.7 230 194.8 229.3C193.8 228.7 192.9 227.6 192 226.3C191.2 225 190.4 223.4 189.7 221.8C189.1 220.1 188.4 218.2 188.3 216.4C188.2 214.6 188.6 212.7 189 211C189.5 209.4 190.2 207.8 191 206.5C191.9 205.2 192.9 204.1 194 203.5C195.1 202.8 196.4 202.4 197.6 202.4C198.8 202.4 200.1 202.8 201.2 203.5C202.3 204.1 203.3 205.2 204.2 206.5C205 207.8 205.7 209.4 206.2 211C206.6 212.7 207 214.6 206.9 216.4Z" fill="#C2F8FD"/><path d="M206.1 216.4C206 218.1 205.4 219.8 204.8 221.4C204.2 222.9 203.4 224.4 202.7 225.6C201.9 226.8 201 227.8 200.2 228.4C199.3 229 198.5 229.4 197.6 229.4C196.7 229.4 195.9 229 195 228.4C194.2 227.8 193.3 226.8 192.5 225.6C191.8 224.4 191 222.9 190.4 221.4C189.8 219.8 189.2 218.1 189.1 216.4C189 214.7 189.3 213 189.7 211.4C190.2 209.9 190.8 208.4 191.6 207.2C192.4 206 193.3 205 194.3 204.4C195.3 203.8 196.5 203.4 197.6 203.4C198.7 203.4 199.9 203.8 200.9 204.4C201.9 205 202.8 206 203.6 207.2C204.4 208.4 205 209.9 205.5 211.4C205.9 213 206.2 214.7 206.1 216.4Z" fill="#A4E9FF"/><path d="M205.3 216C205.2 217.5 204.7 219.1 204.2 220.4C203.7 221.8 203 223.2 202.4 224.2C201.7 225.2 200.8 226.2 200.1 226.7C199.3 227.3 198.4 227.6 197.6 227.6C196.8 227.6 195.9 227.3 195.1 226.7C194.4 226.2 193.5 225.2 192.8 224.2C192.2 223.2 191.5 221.8 191 220.4C190.5 219.1 190 217.5 189.9 216C189.8 214.5 190.1 212.9 190.5 211.6C190.9 210.2 191.5 208.8 192.2 207.8C192.8 206.8 193.7 205.8 194.7 205.3C195.6 204.7 196.6 204.4 197.6 204.4C198.6 204.4 199.6 204.7 200.5 205.3C201.5 205.8 202.4 206.8 203 207.8C203.7 208.8 204.3 210.2 204.7 211.6C205.1 212.9 205.4 214.5 205.3 216Z" fill="#8AD0FF"/><path d="M204.2 217.8C204.2 218.9 203.8 220.1 203.5 221.1C203.1 222.1 202.5 223.1 201.9 223.9C201.3 224.7 200.6 225.3 199.9 225.7C199.2 226.2 198.4 226.4 197.6 226.4C196.8 226.4 196 226.2 195.3 225.7C194.6 225.3 193.9 224.7 193.3 223.9C192.7 223.1 192.1 222.1 191.7 221.1C191.4 220.1 191 218.9 191 217.8C191 216.7 191.2 215.5 191.5 214.5C191.8 213.5 192.3 212.5 192.9 211.7C193.5 210.9 194.3 210.3 195.1 209.9C195.9 209.4 196.8 209.2 197.6 209.2C198.4 209.2 199.3 209.4 200.1 209.9C200.9 210.3 201.7 210.9 202.3 211.7C202.9 212.5 203.4 213.5 203.7 214.5C204 215.5 204.2 216.7 204.2 217.8Z" fill="#3A9CE4"/><path d="M203.3 218.4C203.3 219.3 203.1 220.3 202.8 221.1C202.5 221.9 202 222.7 201.5 223.3C201 224 200.3 224.5 199.7 224.9C199 225.2 198.3 225.4 197.6 225.4C196.9 225.4 196.2 225.2 195.5 224.9C194.9 224.5 194.2 224 193.7 223.3C193.2 222.7 192.7 221.9 192.4 221.1C192.1 220.3 191.9 219.3 191.9 218.4C191.9 217.5 192.1 216.5 192.3 215.7C192.6 214.9 193.1 214.1 193.6 213.5C194.1 212.8 194.7 212.3 195.4 211.9C196.1 211.6 196.9 211.4 197.6 211.4C198.3 211.4 199.1 211.6 199.8 211.9C200.5 212.3 201.1 212.8 201.6 213.5C202.1 214.1 202.6 214.9 202.9 215.7C203.1 216.5 203.3 217.5 203.3 218.4Z" fill="#1A90EE"/><path d="M201.2 218.8C201.2 219.3 201.1 219.9 200.9 220.4C200.8 220.9 200.5 221.4 200.1 221.8C199.8 222.1 199.4 222.5 199 222.7C198.6 222.9 198.1 223 197.6 223C197.1 223 196.6 222.9 196.2 222.7C195.8 222.5 195.4 222.1 195.1 221.8C194.7 221.4 194.4 220.9 194.3 220.4C194.1 219.9 194 219.3 194 218.8C194 218.3 194.1 217.7 194.3 217.2C194.4 216.7 194.7 216.2 195.1 215.8C195.4 215.5 195.8 215.1 196.2 214.9C196.6 214.7 197.1 214.6 197.6 214.6C198.1 214.6 198.6 214.7 199 214.9C199.4 215.1 199.8 215.5 200.1 215.8C200.5 216.2 200.8 216.7 200.9 217.2C201.1 217.7 201.2 218.3 201.2 218.8Z" fill="#1284E5"/><path d="M181 178L181 189L180.2 195.6L178.2 198L176.6 204L175.4 212L174 222L172.4 234L171.8 246L171.7 262L172 276L173.6 281" fill="none" stroke="#fff" stroke-width="1.35" stroke-linejoin="round"/><path d="M173.6 281L174.8 270L176 256L177.4 244L179.4 236L181.2 244L182.4 258L183 272L183.6 281" fill="none" stroke="#fff" stroke-width="1.35" stroke-linejoin="round"/><path d="M166.6 206L170 210.6L173.6 216L176.4 222" fill="none" stroke="#fff" stroke-width="1.35" stroke-linejoin="round"/><path d="M212.7 230L212.8 212.3L213 203L213.5 194L215.4 191.4L219.3 186.5L222.4 186L225 184.2L227.7 182.3L230.6 185.6L232.8 184.8L236 188.2L239.6 183.6L243.5 178.4" fill="none" stroke="#fff" stroke-width="1.35" stroke-linejoin="round"/><path d="M212.7 230L212.2 246L211.6 262L210.8 281" fill="none" stroke="#fff" stroke-width="1.6" stroke-linejoin="round"/><path d="M213.4 212L213.2 230" fill="none" stroke="#fff" stroke-width="1.6" stroke-linejoin="round"/><path d="M285.5 187.3L281.4 191L277.7 195.7L275 201.6L273.5 207.3L272 216L271 224L270.2 236L269.6 250L268.8 264L268.4 276" fill="none" stroke="#fff" stroke-width="1.35" stroke-linejoin="round"/><path d="M216.4 252L216.8 238L217.6 228L219.6 221.4L221.8 217.6L224.2 216.6L227 219.6L230.4 225.6L233 233L234.6 241L235.4 254L235.8 268L236 281" fill="none" stroke="#fff" stroke-width="1.35" stroke-linejoin="round"/><path d="M244.4 281L245 262L245.6 248L246.6 234L247.6 224.6L248.6 234L249.4 250L249.8 262" fill="none" stroke="#fff" stroke-width="1.35" stroke-linejoin="round"/><path d="M249.8 262L250.4 246L251.6 232L252.8 224L254.2 232L255 248L255.6 264L256 281" fill="none" stroke="#fff" stroke-width="1.35" stroke-linejoin="round"/><path d="M262.4 281L263 262L264 248L265.4 240L267 247L267.8 262L268.4 276" fill="none" stroke="#fff" stroke-width="1.35" stroke-linejoin="round"/><path d="M276 281L277 262L278.6 246L280.6 234.6L282.6 231L284 236L284.6 250L284.8 266" fill="none" stroke="#fff" stroke-width="1.35" stroke-linejoin="round"/><path d="M185.4 281L186.4 261.8L188.6 236" fill="none" stroke="#fff" stroke-width="0.85" stroke-linejoin="round" stroke-dasharray="2.6 1.5"/><path d="M188.2 281L188.8 263.4L190.2 240" fill="none" stroke="#fff" stroke-width="0.85" stroke-linejoin="round" stroke-dasharray="2.1 1.7"/><path d="M190.8 281L191 265.8L191.6 246" fill="none" stroke="#fff" stroke-width="0.85" stroke-linejoin="round" stroke-dasharray="2.4 1.3"/><path d="M203.2 281L203 263.4L202.6 240" fill="none" stroke="#fff" stroke-width="0.85" stroke-linejoin="round" stroke-dasharray="2.3 1.6"/><path d="M206.4 281L206 261L205.2 234" fill="none" stroke="#fff" stroke-width="0.85" stroke-linejoin="round" stroke-dasharray="2.7 1.4"/><path d="M193.6 218L196.8 214.6L199.6 218L201.2 223" fill="none" stroke="#fff" stroke-width="0.8" stroke-linejoin="round" stroke-dasharray="2 1.2"/><path d="M199.7 281L199.8 264.2L200.3 249.3L201 266.2L201.2 281" fill="none" stroke="#fff" stroke-width="0.6" stroke-linejoin="round"/><path d="M202.8 281L202.7 268.4L203.4 257.8L204.1 270.4L204.3 281" fill="none" stroke="#fff" stroke-width="0.6" stroke-linejoin="round"/><path d="M206.3 281L206 268.1L206.9 257.2L207.6 270.1L207.8 281" fill="none" stroke="#fff" stroke-width="0.6" stroke-linejoin="round"/><path d="M218 281L217.9 263.9L218.6 248.7L219.3 265.9L219.5 281" fill="none" stroke="#fff" stroke-width="0.6" stroke-linejoin="round"/><path d="M221.2 281L221.3 272.9L221.8 266.8L222.5 274.9L222.7 281" fill="none" stroke="#fff" stroke-width="0.6" stroke-linejoin="round"/><path d="M224.3 281L224.1 273.2L224.9 267.5L225.6 275.2L225.8 281" fill="none" stroke="#fff" stroke-width="0.6" stroke-linejoin="round"/><path d="M228.6 281L228.4 265.7L229.2 252.4L229.9 267.7L230.1 281" fill="none" stroke="#fff" stroke-width="0.6" stroke-linejoin="round"/><path d="M230.9 281L231.1 265.9L231.5 252.8L232.2 267.9L232.4 281" fill="none" stroke="#fff" stroke-width="0.6" stroke-linejoin="round"/><path d="M234.5 281L234.6 268.9L235.1 258.8L235.8 270.9L236 281" fill="none" stroke="#fff" stroke-width="0.6" stroke-linejoin="round"/><path d="M238.3 281L238 268.5L238.9 258.1L239.6 270.5L239.8 281" fill="none" stroke="#fff" stroke-width="0.6" stroke-linejoin="round"/><path d="M241.3 281L241.4 264.8L241.9 250.5L242.6 266.8L242.8 281" fill="none" stroke="#fff" stroke-width="0.6" stroke-linejoin="round"/><path d="M245.4 281L245.4 266L246 252.9L246.7 268L246.9 281" fill="none" stroke="#fff" stroke-width="0.6" stroke-linejoin="round"/><path d="M248.9 281L249.1 265.8L249.5 252.6L250.2 267.8L250.4 281" fill="none" stroke="#fff" stroke-width="0.6" stroke-linejoin="round"/><path d="M252.8 281L252.9 265.2L253.4 251.4L254.1 267.2L254.3 281" fill="none" stroke="#fff" stroke-width="0.6" stroke-linejoin="round"/><path d="M256 281L256.2 272.1L256.6 265.3L257.3 274.1L257.5 281" fill="none" stroke="#fff" stroke-width="0.6" stroke-linejoin="round"/><path d="M259.2 281L258.9 273.3L259.8 267.6L260.5 275.3L260.7 281" fill="none" stroke="#fff" stroke-width="0.6" stroke-linejoin="round"/><path d="M262.9 281L262.7 270.8L263.5 262.7L264.2 272.8L264.4 281" fill="none" stroke="#fff" stroke-width="0.6" stroke-linejoin="round"/><path d="M266.5 281L266.6 262.9L267.1 246.9L267.8 264.9L268 281" fill="none" stroke="#fff" stroke-width="0.6" stroke-linejoin="round"/><path d="M274.1 281L274.2 266L274.7 252.9L275.4 268L275.6 281" fill="none" stroke="#fff" stroke-width="0.6" stroke-linejoin="round"/><path d="M277.2 281L277.1 268.9L277.8 258.8L278.5 270.9L278.7 281" fill="none" stroke="#fff" stroke-width="0.6" stroke-linejoin="round"/><path d="M281 281L281 272.9L281.6 266.8L282.3 274.9L282.5 281" fill="none" stroke="#fff" stroke-width="0.6" stroke-linejoin="round"/><path d="M215.9 262.7L215.5 265L214.3 265.9L213.2 265L212.7 262.7L213.2 260.5L214.3 259.5L215.5 260.5Z" fill="none" stroke="#fff" stroke-width="0.6" stroke-linejoin="round"/><path d="M222 269.8L221.5 272L220.4 273L219.3 272L218.8 269.8L219.3 267.5L220.4 266.6L221.5 267.5Z" fill="none" stroke="#fff" stroke-width="0.6" stroke-linejoin="round"/><path d="M228.6 271.9L228.1 274.1L227 275.1L225.9 274.1L225.4 271.9L225.9 269.6L227 268.7L228.1 269.6Z" fill="none" stroke="#fff" stroke-width="0.6" stroke-linejoin="round"/><path d="M233.2 266.6L232.7 268.9L231.6 269.8L230.4 268.9L230 266.6L230.4 264.4L231.6 263.4L232.7 264.4Z" fill="none" stroke="#fff" stroke-width="0.6" stroke-linejoin="round"/><path d="M239.9 262.3L239.5 264.5L238.3 265.5L237.2 264.5L236.7 262.3L237.2 260L238.3 259.1L239.5 260Z" fill="none" stroke="#fff" stroke-width="0.6" stroke-linejoin="round"/><path d="M245.5 264L245.1 266.3L243.9 267.2L242.8 266.3L242.3 264L242.8 261.8L243.9 260.8L245.1 261.8Z" fill="none" stroke="#fff" stroke-width="0.6" stroke-linejoin="round"/><path d="M250.8 262.7L250.4 265L249.2 265.9L248.1 265L247.6 262.7L248.1 260.4L249.2 259.5L250.4 260.4Z" fill="none" stroke="#fff" stroke-width="0.6" stroke-linejoin="round"/><path d="M258.1 263.6L257.7 265.8L256.5 266.8L255.4 265.8L254.9 263.6L255.4 261.3L256.5 260.4L257.7 261.3Z" fill="none" stroke="#fff" stroke-width="0.6" stroke-linejoin="round"/><path d="M263.1 266.7L262.6 269L261.5 269.9L260.4 269L259.9 266.7L260.4 264.4L261.5 263.5L262.6 264.4Z" fill="none" stroke="#fff" stroke-width="0.6" stroke-linejoin="round"/><path d="M270.3 263L269.9 265.2L268.7 266.2L267.6 265.2L267.1 263L267.6 260.7L268.7 259.8L269.9 260.7Z" fill="none" stroke="#fff" stroke-width="0.6" stroke-linejoin="round"/><path d="M275.5 268.6L275 270.9L273.9 271.8L272.8 270.9L272.3 268.6L272.8 266.3L273.9 265.4L275 266.3Z" fill="none" stroke="#fff" stroke-width="0.6" stroke-linejoin="round"/><path d="M282.4 271.8L281.9 274.1L280.8 275L279.6 274.1L279.2 271.8L279.6 269.6L280.8 268.6L281.9 269.6Z" fill="none" stroke="#fff" stroke-width="0.6" stroke-linejoin="round"/><g transform="translate(255.3 240.2) rotate(90)"><rect x="-2.9" y="-3.6" width="5.9" height="7.2" fill="#fff"/><text x="0" y="2.6" font-size="5.6" text-anchor="middle" stroke="none" style="stroke:none">5</text></g><g transform="translate(249.4 270.7) rotate(-45)"><rect x="-2.9" y="-3.6" width="5.9" height="7.2" fill="#fff"/><text x="0" y="2.6" font-size="5.6" text-anchor="middle" stroke="none" style="stroke:none">5</text></g><path d="M138.6 174C138.7 174.7 139 176.7 139.2 178C139.4 179.3 139.7 180.7 140 182C140.3 183.3 140.4 184.4 140.8 185.7C141.2 187 141.6 188.6 142.2 190C142.8 191.4 143.6 192.9 144.2 194C144.8 195.1 145.3 196 146 196.8C146.7 197.6 147.5 198.4 148.3 199C149.1 199.6 149.9 200.1 151 200.5C152.1 200.9 152.4 200.9 155 201.5C157.6 202.1 162.5 203 166.7 204C170.9 205 175.8 206.1 180 207.3C184.2 208.6 188.1 210.5 191.7 211.5C195.3 212.5 198.1 213 201.7 213.2C205.3 213.4 208.7 213.4 213.3 212.7C217.9 212 223.9 210.2 229.3 209C234.8 207.8 240.4 206.6 246 205.7C251.6 204.8 255.7 204.2 262.7 203.8C269.7 203.4 283.8 203.5 288 203.4" fill="none" stroke="#000" stroke-width="1.7"/><path d="M142.6 174C142.7 174.7 142.9 176.1 143.3 178C143.7 179.9 144.3 183.3 145 185.7C145.7 188.1 146.4 190.4 147.5 192.3C148.6 194.2 149.9 196.1 151.7 197.3C153.5 198.6 155.2 198.9 158.3 199.8C161.4 200.7 165.8 201.6 170 202.7C174.2 203.8 178.9 205.3 183.3 206.5C187.8 207.7 192.5 208.9 196.7 209.8C200.9 210.7 205.6 211.3 208.3 211.7C211 212.1 209.2 212 212.7 212.3C216.2 212.6 223.8 213.5 229.3 213.7C234.9 213.9 240.4 213.8 246 213.7C251.6 213.6 255.7 213.1 262.7 213.2C269.7 213.3 283.8 214.2 288 214.4" fill="none" stroke="#000" stroke-width="1.55" stroke-dasharray="1.5 0.9"/></g>
<g clip-path="url(#clipd)"><rect x="331.9" y="178.2" width="233.7" height="102.1" fill="#C2F8FD"/><path d="M348.4 203.5C347.8 203.9 345.7 205 344.6 206C343.5 207 342.7 207.9 341.7 209.4C340.7 210.9 339.3 213.1 338.6 215C337.9 216.9 337.7 218.7 337.5 221C337.3 223.3 337.4 226.5 337.4 229C337.4 231.5 337.8 234.2 337.6 236C337.4 237.8 337.3 238.8 336 240C334.7 241.2 331 242.5 330 243L330 284L438 284L436.6 276L434 268L431 261L429.4 254L429.8 247L431.4 239L433.4 229.4L434.8 221L435.9 212.7L437.6 203L437 174L349 174Z" fill="#A4E9FF"/><path d="M355 203.5C354.2 204.1 351.8 205.8 350.4 207C349 208.2 347.9 209.3 346.7 211C345.5 212.7 344.2 215.1 343.4 217C342.6 218.9 342 220.7 341.7 222.7C341.4 224.7 341.5 227.1 341.6 229C341.7 230.9 342 232.6 342.5 234.4C343 236.2 343.8 237.9 344.8 239.6C345.8 241.3 347.2 243.2 348.4 244.4C349.5 245.6 350.6 246.3 351.7 247C352.8 247.7 353.8 248.3 355 248.8C356.2 249.3 357.6 249.4 359 249.8C360.4 250.2 361.9 250.1 363.3 251C364.7 251.9 366.3 253.6 367.4 255C368.5 256.4 369.4 258 370 259.3C370.6 260.6 370.9 261.9 371.2 263C371.5 264.1 371 265.2 371.7 266C372.4 266.8 374.1 267.4 375.5 267.8C376.9 268.2 377.9 268.4 380 268.5C382.1 268.6 385.9 268.8 388.3 268.5C390.7 268.2 392.6 267.3 394.5 266.6C396.4 265.9 398.4 264.8 400 264.3C401.6 263.8 403 263.8 404.4 263.8C405.8 263.8 407.1 264.8 408.3 264.3C409.5 263.8 410.5 262.7 411.4 260.6C412.2 258.6 412.6 254.4 413.4 252C414.1 249.6 415 248.3 415.9 246C416.8 243.7 417.6 240.8 419 238C420.4 235.2 422.5 232.4 424.2 229.4C425.9 226.4 427.6 222.8 429 220C430.4 217.2 431.5 214.9 432.6 212.7C433.7 210.5 434.7 208.2 435.4 206.6C436.1 205 436.4 203.8 436.6 203.2L436 174L355 174Z" fill="#8AD0FF"/><path d="M404.6 262C404.7 263.3 404.9 266.3 405 270C405.1 273.7 405.3 281.7 405.4 284L422 284L422 268L421.6 254L420.6 244L418 238L410 246Z" fill="#8AD0FF"/><path d="M358.4 203.5C357.6 204.2 355 206.5 353.6 208C352.2 209.5 351.1 210.9 350 212.7C348.9 214.5 347.9 216.6 347.2 218.6C346.5 220.6 346 222.7 345.9 224.4C345.8 226.1 346.2 227.6 346.6 229C347 230.4 347.6 231.5 348.4 232.7C349.2 233.9 350.3 235.3 351.4 236.4C352.5 237.5 353.7 238.5 355 239.4C356.3 240.3 357.6 241.2 359 242C360.4 242.8 361.8 243.5 363.4 244.4C364.9 245.3 366.6 246.3 368.3 247.6C370 248.9 372 250.4 373.4 252C374.8 253.6 375.7 255.6 376.8 257.4C377.9 259.2 379 261.5 380 262.7C381 263.9 381.9 264.4 383 264.8C384.1 265.2 385.2 265.6 386.7 265.2C388.2 264.8 390.3 263.6 392 262.6C393.7 261.6 395.4 260.2 396.7 259.3C398 258.4 398.9 257.6 400 257C401.1 256.4 402.3 255.9 403.3 256C404.3 256.1 405.2 257 406 257.4C406.8 257.8 407.7 259.1 408.3 258.5C408.9 257.9 409.5 255.9 409.8 254C410.1 252.1 409.5 249.4 410 247C410.5 244.6 411.9 241.8 413 239.6C414.1 237.4 415.3 235.3 416.5 233.6C417.7 231.9 418.8 231.1 420 229.4C421.2 227.7 422.6 225.7 424 223.6C425.4 221.5 427.3 219.1 428.6 217C429.9 214.9 431 212.8 432 211C433 209.2 434 207.3 434.6 206C435.2 204.7 435.6 203.7 435.8 203.2L435.6 174L358.4 174Z" fill="#3A9CE4"/><path d="M360.9 203.5C360.2 204.4 357.9 207.2 356.6 209C355.4 210.8 354.3 212.8 353.4 214.4C352.5 216 351.6 217.2 351 218.6C350.4 220 350.1 221.4 350 222.7C349.9 224 350.2 225.3 350.6 226.4C351 227.5 351.8 228.4 352.5 229.4C353.2 230.4 354 231.4 355 232.2C356 233 357.1 233.7 358.4 234.4C359.7 235.1 361.3 235.9 363 236.4C364.7 236.9 366.6 237.6 368.4 237.7C370.2 237.8 371.9 237.3 373.6 237C375.3 236.7 377 236 378.4 236C379.8 236 380.9 236.6 382 237.2C383.1 237.8 384.1 238.5 385.1 239.4C386.1 240.3 387 241.5 387.8 242.6C388.6 243.7 389.2 245.2 390.1 246C391 246.8 392.3 247.3 393.4 247.6C394.5 247.9 395.5 247.9 396.8 247.7C398.1 247.5 399.6 247.1 401 246.6C402.4 246.1 403.8 245.3 405.1 244.4C406.4 243.5 407.5 242.5 408.6 241.4C409.7 240.3 410.7 239 411.8 237.7C412.9 236.4 414.3 234.8 415.4 233.4C416.5 232 417.3 231 418.5 229.4C419.7 227.8 421.1 225.7 422.5 223.6C423.9 221.5 425.6 219.2 427 217C428.4 214.8 429.9 212.4 431 210.6C432.1 208.8 433.1 207.2 433.8 206C434.5 204.8 435 203.6 435.2 203.1L435.2 174L360.9 174Z" fill="#1A90EE"/><path d="M363.4 204.3C363.1 205.2 362 208.1 361.6 210C361.2 211.9 360.9 214.4 360.9 216C360.9 217.6 361.2 218.5 361.6 219.6C362 220.7 362.6 221.7 363.4 222.7C364.2 223.7 365.3 224.8 366.4 225.6C367.5 226.4 368.7 227.4 370.1 227.7C371.5 228 373.3 227.7 375 227.4C376.7 227.1 378.8 226.2 380.1 226C381.4 225.8 382 226.1 382.8 226.4C383.6 226.7 384.3 227 385.1 227.7C385.9 228.4 387 229.7 387.8 230.8C388.6 231.9 389.1 233.3 390.1 234.4C391.1 235.5 392.6 236.6 394 237.4C395.4 238.2 396.9 239.1 398.4 239.4C399.9 239.7 401.4 239.5 402.8 239.2C404.2 238.9 405.4 238.5 406.8 237.7C408.2 236.9 409.6 235.7 411 234.6C412.4 233.5 413.7 232.2 415.1 231C416.5 229.8 418 228.7 419.4 227.6C420.8 226.5 422.1 225.9 423.5 224.4C424.9 222.9 426.3 220.7 427.5 218.6C428.7 216.5 429.7 214 430.6 212C431.6 210 432.5 207.9 433.2 206.4C433.9 204.9 434.4 203.6 434.6 203L434.8 174L363.4 174Z" fill="#1284E5"/><path d="M367.6 201.8C367.7 202.6 367.9 205.1 368.2 206.6C368.5 208.1 368.6 209.6 369.2 211C369.8 212.4 370.6 213.7 371.6 214.8C372.6 215.9 373.7 217.1 375.1 217.7C376.5 218.3 378.3 218.3 380 218.4C381.7 218.5 383.5 218.3 385.1 218.5C386.7 218.7 388 219 389.4 219.4C390.8 219.8 392 220.3 393.4 221C394.8 221.7 396.2 222.8 397.6 223.6C399 224.4 400.4 225.4 401.8 226C403.2 226.6 404.6 227.1 406 227.4C407.4 227.7 408.5 227.8 410.1 227.7C411.7 227.6 413.7 227.1 415.4 226.6C417.1 226.1 418.8 225.2 420.2 224.4C421.6 223.6 422.8 222.9 424 221.6C425.2 220.3 426.3 218.6 427.4 216.8C428.5 215 429.5 212.4 430.4 210.6C431.3 208.8 432 207.3 432.6 206C433.2 204.7 433.6 203.5 433.8 203L434.4 174L367.6 174Z" fill="#1078D8"/><path d="M370.7 176C370.7 178 370.8 184.7 370.8 188C370.8 191.3 370.7 194.1 370.9 196C371.1 197.9 371.6 198.5 372 199.6C372.4 200.7 372.8 201.5 373.4 202.7C374 203.9 374.8 205.6 375.6 206.8C376.4 208.1 377.4 209.3 378.4 210.2C379.4 211.1 380.5 211.6 381.6 212.2C382.7 212.8 383.7 213.2 385.1 213.5C386.5 213.8 388.3 213.8 390 214C391.7 214.2 393.7 214 395.1 214.4C396.5 214.8 397.5 215.5 398.6 216.2C399.7 216.9 400.7 217.9 401.8 218.5C402.9 219.1 403.9 219.6 405 220C406.1 220.4 407.1 220.9 408.5 221C409.9 221.1 411.7 220.9 413.4 220.6C415.1 220.3 417 219.9 418.5 219.4C420 218.9 421.1 218.2 422.4 217.4C423.6 216.6 425 215.5 426 214.4C427 213.3 427.6 212.4 428.4 211C429.2 209.6 430.4 207.3 430.9 206C431.4 204.7 432 204.5 431.6 203.4C431.2 202.3 428.9 200 428.4 199.3L419.4 174L370.7 174Z" fill="#0762C4"/><path d="M333.3 270C334.3 269.1 335.7 269.2 337 269.4C338.3 269.6 339.9 270.1 341 271C342.1 271.9 343.1 273.4 343.3 274.6C343.5 275.9 343.1 277.6 342 278.5C340.9 279.4 338.4 279.8 337 280C335.6 280.2 334.3 280.3 333.3 279.5C332.3 278.7 331 276.6 331 275C331 273.4 332.3 270.9 333.3 270Z" fill="#3A9CE4"/><path d="M332 252.7C332.7 251 334.8 252 336 252.4C337.2 252.8 338.7 253.9 339.4 255C340.1 256.1 340.4 257.8 340 259C339.6 260.2 338.3 261.4 337 262C335.7 262.6 332.8 263.9 332 262.4C331.2 260.8 331.3 254.4 332 252.7Z" fill="#8AD0FF"/><path d="M405.8 284C405.8 282.3 405.7 276.6 406 274C406.3 271.4 407 269.1 407.6 268.5C408.2 267.9 409 267.8 409.4 270.4C409.8 273 410.1 281.7 410.2 284Z" fill="#3A9CE4"/><path d="M415.8 284C415.9 282.3 416.1 276.4 416.6 274C417.1 271.6 418.2 269.6 419 269.3C419.8 269 420.8 269.9 421.4 272.4C422 274.8 422.3 282.1 422.5 284Z" fill="#3A9CE4"/><path d="M344 252C344.6 250.1 346.2 249 347.5 248.4C348.8 247.8 350.5 247.9 352 248.6C353.5 249.3 355.3 250.7 356.6 252.6C357.9 254.5 359 257.4 359.6 260C360.2 262.6 360.8 265.9 360.4 268C360 270.1 358.5 271.6 357 272.4C355.5 273.2 353.1 273.3 351.4 272.6C349.7 271.9 347.8 270.1 346.6 268C345.4 265.9 344.6 262.7 344.2 260C343.8 257.3 343.4 253.9 344 252Z" fill="#C2F8FD"/><path d="M347.8 252.7C348.3 252.1 349.6 252.8 350.4 253.6C351.2 254.4 351.8 256.2 352.4 257.6C353 259 353.8 260.6 354.2 262C354.6 263.4 355.2 265 355 266C354.8 267 354 267.7 353.2 267.9C352.4 268.1 350.8 268.3 350 267.4C349.2 266.5 348.8 264.3 348.4 262.6C348 260.9 347.6 259 347.5 257.4C347.4 255.7 347.3 253.3 347.8 252.7Z" fill="#FFE777"/><path d="M331 214C331.6 210.5 333.4 214.2 334.4 215C335.3 215.8 336.4 217.5 336.7 219C337 220.5 336.4 221.8 336.4 224C336.4 226.2 336.9 229.7 336.7 232C336.5 234.3 336 236.7 335.4 238C334.8 239.3 333.5 240 332.8 239.7C332.1 239.4 331.3 240.3 331 236C330.7 231.7 330.4 217.5 331 214Z" fill="#FFE777"/><path d="M368.4 271C369 270.4 371.3 269.9 373 270C374.7 270.1 378.2 271.1 378.4 271.8C378.6 272.5 375.5 274.1 374 274.4C372.5 274.7 370.3 274.4 369.4 273.8C368.5 273.2 367.8 271.6 368.4 271Z" fill="#C2F8FD"/><path d="M386.7 275.6C387.4 274.9 390.1 274.2 392 274.2C393.9 274.2 398.1 274.7 398.3 275.4C398.5 276.1 394.8 278.1 393 278.6C391.2 279.1 388.7 278.7 387.6 278.2C386.6 277.7 386 276.3 386.7 275.6Z" fill="#C2F8FD"/><path d="M489 214C489 215 489.3 218 489.2 220C489.1 222 488.8 224.2 488.3 226C487.8 227.8 486.8 229.3 486 231C485.2 232.7 484.2 234.2 483.3 236C482.4 237.8 481.6 239.7 480.8 241.6C480 243.5 479.2 245.7 478.3 247.7C477.4 249.7 476.3 251.5 475.2 253.4C474.1 255.3 472.7 257.6 471.7 259.3C470.7 261 469.8 262.2 469 263.6C468.2 265 467.2 266.3 466.7 267.7C466.2 269.1 465.9 269.3 465.9 272C465.9 274.7 466.6 282 466.7 284L570 284L570 200L489 200Z" fill="#FFE777"/><path d="M490.6 215C490.7 215.9 491.4 218.8 491.4 220.6C491.4 222.4 491.1 223.9 490.7 226C490.3 228.1 489.5 230.8 489 233C488.5 235.2 487.9 237.3 487.5 239.3C487.1 241.3 486.9 243.1 486.6 245C486.3 246.9 486.1 249 485.8 251C485.5 253 485.3 255.1 485 257C484.7 258.9 484.5 260.8 484.2 262.7C483.9 264.6 483.4 266.7 483 268.6C482.6 270.5 482.2 271.7 481.7 274.3C481.2 276.9 480.3 282.4 480 284L570 284L570 200L490.6 200Z" fill="#FFC250"/><path d="M492 215.6C492.3 216.5 493.5 219.3 494 221C494.5 222.7 494.5 224.3 494.8 226C495.1 227.7 495.6 229.3 496 231C496.4 232.7 496.8 234 497.3 236C497.8 238 498.4 240.5 498.8 243C499.2 245.5 499.8 248.8 499.8 251C499.8 253.2 499.3 254.3 499 256C498.7 257.7 498.2 259 498.2 261C498.2 263 498.9 265.8 499.2 268C499.5 270.2 500.3 271.6 499.8 274.3C499.3 277 496.6 282.4 496 284L570 284L570 200L492 200Z" fill="#FFA010"/><path d="M494 216C494.6 216.9 496.2 219.7 497.6 221.6C499 223.5 500.8 226.1 502.3 227.5C503.8 228.9 505.4 229 506.8 230C508.2 231 509.6 232 510.7 233.3C511.8 234.6 512.7 236.3 513.4 238C514.1 239.7 514.5 241.3 514.8 243.3C515.1 245.3 515.1 247.9 515.2 250C515.3 252.1 515.2 254.2 515.4 256C515.6 257.8 516 259.2 516.5 261C517 262.8 517.7 265.1 518.4 267C519.1 268.9 519.7 269.9 520.7 272.7C521.7 275.5 524 282.1 524.6 284L570 284L570 200L494 200Z" fill="#FF6C0A"/><path d="M495 216.2C495.8 217.2 497.9 220.1 499.6 222C501.3 223.9 502.9 226 505 227.6C507.1 229.2 509.5 230.5 512 231.6C514.5 232.7 517.2 233.7 520 234.4C522.8 235.1 525.7 235.7 529 236C532.3 236.3 536.2 236.3 540 236.2C543.8 236.1 547 235.7 552 235.4C557 235.1 567 234.7 570 234.6L570 200L495 200Z" fill="#F84008"/><path d="M495.6 216.2C496.4 217.2 498.9 220.2 500.6 222C502.3 223.8 503.9 225.4 506 226.8C508.1 228.2 510.5 229.4 513 230.4C515.5 231.4 518.3 232.2 521 232.8C523.7 233.4 525.7 233.8 529 234C532.3 234.2 537 234.1 541 234C545 233.9 548.2 233.5 553 233.2C557.8 232.9 567.2 232.5 570 232.4L570 200L495.6 200Z" fill="#E61A0A"/><path d="M496.2 216C497.1 217 499.6 220.1 501.4 221.8C503.2 223.5 504.7 224.9 506.8 226.2C508.9 227.5 511.5 228.7 514 229.6C516.5 230.5 519.4 231.1 522 231.6C524.6 232.1 526.2 232.3 529.4 232.4C532.6 232.5 537.1 232.4 541 232.2C544.9 232 548.2 231.7 553 231.4C557.8 231.1 567.2 230.7 570 230.6L570 200L496.2 200Z" fill="#A40808"/><path d="M535.7 249C535.9 248.1 537 246.8 538 246.4C539 246 540.5 246 541.4 246.4C542.3 246.8 543.1 248 543.2 249C543.3 250 542.6 251.6 542 252.4C541.4 253.2 540.3 253.7 539.4 253.6C538.5 253.5 537.2 252.8 536.6 252C536 251.2 535.5 249.9 535.7 249Z" fill="#FFC250"/><path d="M529.8 272C529.9 270.2 530.6 268.5 531.4 267.6C532.2 266.7 533.5 266.4 534.6 266.6C535.7 266.8 537.1 267.5 537.8 268.6C538.5 269.7 538.9 271.8 539 273.4C539.1 275 539.1 277.4 538.4 278.5C537.7 279.6 536.2 280 535 280C533.8 280 531.9 279.9 531 278.6C530.1 277.3 529.7 273.8 529.8 272Z" fill="#F84008"/><path d="M548.2 267.6C548.6 266.5 550.1 265 551.4 264C552.7 263 554.6 261.9 556 261.4C557.4 260.9 559.2 260.7 560 261C560.8 261.3 561.1 262.4 560.7 263.4C560.3 264.4 558.8 265.9 557.4 267C556 268.1 554 269.4 552.6 270C551.2 270.6 549.7 270.8 549 270.4C548.3 270 547.8 268.7 548.2 267.6Z" fill="#F84008"/><path d="M431.7 284C432.1 282.7 432.9 277.6 434 276C435.1 274.4 437 274.5 438.6 274.3C440.2 274.1 442.1 275.1 443.4 275C444.7 274.9 445.8 273.5 446.6 273.8C447.4 274.1 447.9 275.3 448.3 277C448.7 278.7 448.9 282.8 449 284Z" fill="#FFE777"/><path d="M436.7 202.3C437 202.8 437.8 203.8 438.4 205C438.9 206.2 439.3 208 440 209.6C440.7 211.2 441.9 213.2 442.6 214.4C443.3 215.6 443.8 216.2 444.4 216.8C444.9 217.4 445.3 217.7 445.9 217.7C446.5 217.7 447.3 217.1 448 217C448.7 216.9 449.3 216.5 450.1 216.9C450.9 217.3 451.8 218.4 452.6 219.4C453.4 220.4 454.3 221.6 455.1 222.7C455.9 223.8 456.7 225 457.4 226C458.1 227 458.8 228 459.3 228.6C459.8 229.2 460.2 229.7 460.6 229.8C461 229.9 461.3 230 461.8 229.4C462.3 228.8 463.1 227.5 463.6 226.4C464.2 225.3 464.6 224 465.1 222.7C465.6 221.4 466.2 220 466.6 218.6C467 217.2 467.3 215.9 467.6 214.4C467.9 212.9 468.3 210.2 468.4 209.4L468.4 200Z" fill="#FFE777"/><path d="M439.4 202.8C439.7 203.6 440.7 205.9 441.4 207.6C442.1 209.3 443 211.5 443.8 212.8C444.6 214.1 445.5 215 446.4 215.4C447.3 215.8 448.4 215 449.4 215.4C450.4 215.8 451.4 216.7 452.4 217.6C453.3 218.5 454.2 219.9 455.1 221C456 222.1 456.8 223.4 457.6 224.4C458.4 225.4 459.1 226.7 459.8 227C460.5 227.3 461.1 226.9 461.8 226.2C462.5 225.5 463.2 223.9 463.8 222.6C464.4 221.3 464.9 220 465.4 218.6C465.9 217.2 466.4 215.5 466.8 214C467.2 212.5 467.5 210.3 467.6 209.6L467.6 200Z" fill="#FFC250"/><path d="M441.7 202.7C442 203.5 442.8 205.9 443.4 207.6C444 209.3 444.4 211.7 445.1 212.7C445.8 213.7 446.6 213.5 447.4 213.6C448.2 213.7 449.2 213.1 450.1 213.5C451 213.9 451.8 215 452.6 216C453.4 217 454.2 218.3 455.1 219.4C456 220.5 457 221.6 457.8 222.6C458.6 223.6 459.3 225.2 460.1 225.2C460.9 225.2 461.7 223.6 462.4 222.6C463.1 221.6 463.8 220.6 464.3 219.4C464.8 218.2 465.2 216.8 465.6 215.4C466 214 466.6 211.7 466.8 211L466.8 200Z" fill="#FFA010"/><path d="M444.4 203.4C444.7 204.1 445.7 206.4 446.4 207.8C447.1 209.2 447.7 210.8 448.6 211.6C449.5 212.4 450.6 211.9 451.6 212.6C452.6 213.3 453.4 214.4 454.4 215.6C455.4 216.8 456.4 218.4 457.4 219.6C458.3 220.8 459.3 223 460.1 223C460.9 223 461.8 220.8 462.4 219.6C463 218.4 463.5 216.9 464 215.6C464.5 214.3 465 212.8 465.4 211.8C465.8 210.8 466.2 210.1 466.4 209.8L466.4 200Z" fill="#FF6C0A"/><path d="M446.6 203.9C447 204.6 448.1 206.8 448.8 208C449.5 209.2 450.1 210.2 451 211C451.9 211.8 453.3 212 454.4 213C455.5 214 456.4 215.5 457.4 216.8C458.3 218.1 459.3 221 460.1 221C460.9 221 461.6 218.3 462.2 217C462.8 215.7 463.3 214.5 463.8 213.4C464.3 212.3 464.8 211.2 465.2 210.6C465.6 210 466 209.8 466.2 209.6L466.2 200Z" fill="#F84008"/><path d="M448.4 204.3C448.7 204.9 449.6 206.6 450.2 207.6C450.8 208.6 451.1 209.5 451.8 210.2C452.5 210.9 453.6 211.3 454.4 212C455.2 212.7 456.1 213.6 456.8 214.4C457.5 215.2 458.1 216.2 458.6 217C459.2 217.8 459.6 219.4 460.1 219.4C460.6 219.4 461.2 217.8 461.8 217C462.4 216.2 462.9 215.3 463.4 214.4C463.9 213.5 464.4 212.4 464.8 211.6C465.2 210.8 465.7 209.8 465.9 209.4L465.9 200Z" fill="#E61A0A"/><path d="M451 205.2C451.3 205.8 452.2 207.6 453 208.6C453.8 209.6 454.8 210.2 455.6 211C456.4 211.8 457.2 212.7 458 213.6C458.8 214.5 459.4 216.4 460.1 216.4C460.8 216.4 461.4 214.6 462 213.8C462.6 213 463.1 212.2 463.6 211.4C464.2 210.6 465 209.6 465.3 209.2L465.3 200Z" fill="#C80A08"/><path d="M453.4 206C453.8 206.5 454.8 208.2 455.6 209.2C456.4 210.2 457.6 211.2 458.4 211.9C459.2 212.6 459.7 213.4 460.4 213.4C461.1 213.4 461.9 212.9 462.6 212.2C463.3 211.5 464.3 209.5 464.6 209L464.6 200Z" fill="#A40808"/><path d="M419.7 174C419.8 175 420.2 178 420.5 180C420.8 181.9 421.1 183.9 421.6 185.7C422.1 187.4 422.7 189 423.3 190.5C423.9 191.9 424.5 193.2 425.2 194.4C426 195.5 426.8 196.5 427.6 197.4C428.4 198.2 429.2 198.8 430.2 199.4C431.2 199.9 432.3 200.2 433.6 200.5C434.9 200.9 436.5 201.1 438.1 201.4C439.6 201.7 442.2 202.1 443 202.3L455.8 196L455.8 170Z" fill="#8AD0FF"/><path d="M421.2 174C421.3 175 421.7 178 422 180C422.3 181.9 422.6 183.9 423 185.7C423.5 187.4 424.1 189 424.6 190.4C425.2 191.9 425.8 193.2 426.5 194.3C427.2 195.4 427.9 196.4 428.7 197.2C429.5 198 430.1 198.6 431.1 199.1C432 199.6 433 199.9 434.3 200.2C435.5 200.5 437 200.8 438.4 201C439.9 201.3 442.2 201.6 443 201.8L455.8 196L455.8 170Z" fill="#C2F8FD"/><path d="M422.6 174C422.7 175 423.1 178 423.4 180C423.7 181.9 424 183.9 424.4 185.7C424.8 187.4 425.4 189 425.9 190.4C426.5 191.8 427 193.1 427.7 194.2C428.3 195.3 429 196.3 429.7 197.1C430.4 197.9 431 198.5 431.9 198.9C432.7 199.4 433.7 199.7 434.9 200C436 200.2 437.4 200.4 438.7 200.6C440.1 200.9 442.3 201.2 443 201.3L455.8 196L455.8 170Z" fill="#FFE777"/><path d="M423.9 174C424 175 424.4 178 424.7 180C425 181.9 425.2 183.9 425.6 185.6C426 187.4 426.6 188.9 427.1 190.4C427.6 191.8 428.1 193 428.7 194.1C429.3 195.2 430 196.2 430.7 197C431.3 197.7 431.9 198.3 432.7 198.8C433.4 199.2 434.3 199.4 435.4 199.7C436.5 199.9 437.8 200.1 439 200.3C440.3 200.5 442.3 200.7 443 200.8L455.8 196L455.8 170Z" fill="#FFA010"/><path d="M425.1 174C425.2 175 425.6 178 425.9 180C426.1 181.9 426.4 183.9 426.8 185.6C427.2 187.4 427.7 188.9 428.2 190.3C428.7 191.7 429.2 193 429.7 194.1C430.3 195.2 430.9 196.1 431.5 196.9C432.1 197.6 432.6 198.1 433.4 198.6C434.1 199 434.9 199.2 435.9 199.5C436.9 199.7 438.1 199.8 439.3 200C440.5 200.1 442.4 200.3 443 200.4L455.8 196L455.8 170Z" fill="#F84008"/><path d="M426.2 174C426.3 175 426.7 178 426.9 180C427.2 181.9 427.5 183.9 427.9 185.6C428.2 187.3 428.7 188.9 429.2 190.3C429.7 191.7 430.1 192.9 430.7 194C431.2 195.1 431.8 196 432.3 196.7C432.9 197.5 433.3 198 434 198.4C434.7 198.8 435.5 199 436.4 199.2C437.3 199.4 438.5 199.5 439.6 199.7C440.7 199.8 442.4 200 443 200L455.8 196L455.8 170Z" fill="#C80A08"/><path d="M427.3 174C427.4 175 427.8 178 428 180C428.3 181.9 428.6 183.9 428.9 185.6C429.3 187.3 429.8 188.9 430.2 190.3C430.6 191.6 431.1 192.9 431.6 193.9C432.1 195 432.6 195.9 433.1 196.6C433.6 197.4 434 197.9 434.7 198.3C435.3 198.7 436 198.8 436.9 199C437.7 199.2 438.8 199.3 439.8 199.4C440.8 199.5 441.9 198.9 443 199.6C444.1 200.3 443.7 202.4 446.5 203.6C449.3 204.8 456.2 205.9 459.8 206.9C463.4 207.9 466.5 209 467.8 209.4L469.8 190L571.8 190L571.8 170Z" fill="#860000"/><path d="M469.8 210.8C470.8 211.1 473.5 212.2 475.8 212.6C478.1 213 481.4 213.3 483.8 213.4C486.2 213.5 488.8 212.7 490.4 213C492 213.3 492.7 214.1 493.5 215C494.3 215.9 494.8 217.3 495.4 218.4C495.9 219.5 496.1 220.7 496.8 221.7C497.5 222.7 498.7 223.8 499.8 224.6C500.9 225.4 501.9 226.1 503.5 226.7C505.1 227.3 507.3 227.8 509.2 228.2C511.2 228.6 513.1 228.9 515.2 229.2C517.3 229.5 519.6 229.7 521.8 229.8C524 229.9 526 230 528.5 230C531 230 534 229.9 536.8 229.8C539.6 229.7 542.2 229.4 545.2 229.2C548.2 229 550.4 228.9 554.8 228.7C559.2 228.5 569 228.3 571.8 228.2L571.8 190L465.8 190Z" fill="#860000"/><clipPath id="domed"><path d="M455.8 205.9L459.8 207L465.8 209.2L471.5 211.3L476.8 212.6L481.5 213.1L486.8 213.1L493.1 212.6L499.8 211.3L499.8 190L455.8 190Z"/></clipPath><g clip-path="url(#domed)"><path d="M490.1 216.4C490.1 218.7 489.7 221.2 489.1 223.4C488.5 225.5 487.5 227.6 486.4 229.3C485.2 230.9 483.7 232.3 482.2 233.2C480.8 234.1 479 234.6 477.4 234.6C475.8 234.6 474 234.1 472.6 233.2C471.1 232.3 469.6 230.9 468.4 229.3C467.3 227.6 466.3 225.5 465.7 223.4C465.1 221.2 464.7 218.7 464.7 216.4C464.7 214.1 465.1 211.6 465.7 209.4C466.3 207.3 467.3 205.2 468.4 203.5C469.6 201.9 471.1 200.5 472.6 199.6C474 198.7 475.8 198.2 477.4 198.2C479 198.2 480.8 198.7 482.2 199.6C483.7 200.5 485.2 201.9 486.4 203.5C487.5 205.2 488.5 207.3 489.1 209.4C489.7 211.6 490.1 214.1 490.1 216.4Z" fill="#A40808"/><path d="M489.4 216.4C489.4 218.6 489.1 221 488.5 223.1C487.9 225.2 487 227.2 485.9 228.8C484.8 230.4 483.4 231.7 482 232.6C480.6 233.4 478.9 233.9 477.4 233.9C475.9 233.9 474.2 233.4 472.8 232.6C471.4 231.7 470 230.4 468.9 228.8C467.8 227.2 466.9 225.2 466.3 223.1C465.7 221 465.4 218.6 465.4 216.4C465.4 214.2 465.7 211.8 466.3 209.7C466.9 207.6 467.8 205.6 468.9 204C470 202.4 471.4 201.1 472.8 200.2C474.2 199.4 475.9 198.9 477.4 198.9C478.9 198.9 480.6 199.4 482 200.2C483.4 201.1 484.8 202.4 485.9 204C487 205.6 487.9 207.6 488.5 209.7C489.1 211.8 489.4 214.2 489.4 216.4Z" fill="#C80A08"/><path d="M488.6 216.4C488.6 218.5 488.3 220.8 487.8 222.8C487.2 224.8 486.4 226.8 485.3 228.3C484.3 229.8 483 231.1 481.7 231.9C480.4 232.7 478.8 233.2 477.4 233.2C476 233.2 474.4 232.7 473.1 231.9C471.8 231.1 470.5 229.8 469.5 228.3C468.4 226.8 467.6 224.8 467 222.8C466.5 220.8 466.2 218.5 466.2 216.4C466.2 214.3 466.5 212 467 210C467.6 208 468.4 206 469.5 204.5C470.5 203 471.8 201.7 473.1 200.9C474.4 200.1 476 199.6 477.4 199.6C478.8 199.6 480.4 200.1 481.7 200.9C483 201.7 484.3 203 485.3 204.5C486.4 206 487.2 208 487.8 210C488.3 212 488.6 214.3 488.6 216.4Z" fill="#F84008"/><path d="M487.9 216.4C487.9 218.4 487.6 220.6 487.1 222.5C486.6 224.4 485.7 226.3 484.8 227.7C483.9 229.2 482.6 230.4 481.4 231.2C480.2 232 478.7 232.4 477.4 232.4C476.1 232.4 474.6 232 473.4 231.2C472.2 230.4 470.9 229.2 470 227.7C469.1 226.3 468.2 224.4 467.7 222.5C467.2 220.6 466.9 218.4 466.9 216.4C466.9 214.4 467.2 212.2 467.7 210.3C468.2 208.4 469.1 206.5 470 205.1C470.9 203.6 472.2 202.4 473.4 201.6C474.6 200.8 476.1 200.4 477.4 200.4C478.7 200.4 480.2 200.8 481.4 201.6C482.6 202.4 483.9 203.6 484.8 205.1C485.7 206.5 486.6 208.4 487.1 210.3C487.6 212.2 487.9 214.4 487.9 216.4Z" fill="#FFA010"/><path d="M487.1 216.4C487.1 218.3 486.8 220.4 486.4 222.2C485.9 224 485.1 225.8 484.3 227.1C483.4 228.5 482.3 229.7 481.1 230.4C480 231.2 478.6 231.6 477.4 231.6C476.2 231.6 474.8 231.2 473.7 230.4C472.5 229.7 471.4 228.5 470.5 227.1C469.7 225.8 468.9 224 468.4 222.2C468 220.4 467.7 218.3 467.7 216.4C467.7 214.5 468 212.4 468.4 210.6C468.9 208.8 469.7 207 470.5 205.7C471.4 204.3 472.5 203.1 473.7 202.4C474.8 201.6 476.2 201.2 477.4 201.2C478.6 201.2 480 201.6 481.1 202.4C482.3 203.1 483.4 204.3 484.3 205.7C485.1 207 485.9 208.8 486.4 210.6C486.8 212.4 487.1 214.5 487.1 216.4Z" fill="#FFE777"/></g><path d="M486.3 216.4C486.2 218 485.6 219.8 485 221.3C484.4 222.8 483.5 224.3 482.7 225.5C481.9 226.7 481 227.7 480.1 228.3C479.2 228.9 478.3 229.3 477.4 229.3C476.5 229.3 475.6 228.9 474.7 228.3C473.8 227.7 472.9 226.7 472.1 225.5C471.3 224.3 470.4 222.8 469.8 221.3C469.2 219.8 468.6 218 468.5 216.4C468.4 214.8 468.7 213 469.2 211.5C469.6 210 470.3 208.5 471.1 207.3C471.9 206.1 472.9 205.1 474 204.5C475 203.9 476.3 203.5 477.4 203.5C478.5 203.5 479.8 203.9 480.8 204.5C481.9 205.1 482.9 206.1 483.7 207.3C484.5 208.5 485.2 210 485.6 211.5C486.1 213 486.4 214.8 486.3 216.4Z" fill="#C2F8FD"/><path d="M485.6 216.4C485.5 217.9 484.9 219.6 484.3 221C483.8 222.4 483 223.8 482.3 224.9C481.5 225.9 480.7 226.9 479.9 227.4C479.1 228 478.2 228.4 477.4 228.4C476.6 228.4 475.7 228 474.9 227.4C474.1 226.9 473.3 225.9 472.5 224.9C471.8 223.8 471 222.4 470.5 221C469.9 219.6 469.3 217.9 469.2 216.4C469.1 214.9 469.5 213.2 469.9 211.8C470.3 210.4 470.9 209 471.6 207.9C472.4 206.9 473.3 205.9 474.3 205.4C475.2 204.8 476.4 204.4 477.4 204.4C478.4 204.4 479.6 204.8 480.5 205.4C481.5 205.9 482.4 206.9 483.2 207.9C483.9 209 484.5 210.4 484.9 211.8C485.3 213.2 485.7 214.9 485.6 216.4Z" fill="#A4E9FF"/><path d="M484.8 216C484.7 217.4 484.2 218.8 483.8 220.1C483.3 221.3 482.6 222.6 482 223.5C481.3 224.5 480.5 225.3 479.8 225.9C479 226.4 478.2 226.7 477.4 226.7C476.6 226.7 475.8 226.4 475 225.9C474.3 225.3 473.5 224.5 472.8 223.5C472.2 222.6 471.5 221.3 471 220.1C470.6 218.8 470.1 217.4 470 216C469.9 214.6 470.2 213.2 470.6 211.9C470.9 210.7 471.5 209.4 472.2 208.5C472.8 207.5 473.7 206.7 474.6 206.1C475.4 205.6 476.5 205.3 477.4 205.3C478.3 205.3 479.4 205.6 480.2 206.1C481.1 206.7 482 207.5 482.6 208.5C483.3 209.4 483.9 210.7 484.2 211.9C484.6 213.2 484.9 214.6 484.8 216Z" fill="#8AD0FF"/><path d="M483.7 213.6C483.7 214.7 483.4 215.9 483 216.9C482.7 217.9 482.1 218.9 481.6 219.7C481 220.5 480.3 221.1 479.6 221.5C478.9 222 478.1 222.2 477.4 222.2C476.7 222.2 475.9 222 475.2 221.5C474.5 221.1 473.8 220.5 473.2 219.7C472.7 218.9 472.1 217.9 471.8 216.9C471.4 215.9 471.1 214.7 471.1 213.6C471 212.5 471.2 211.3 471.5 210.3C471.9 209.3 472.3 208.3 472.9 207.5C473.5 206.7 474.2 206.1 475 205.7C475.7 205.2 476.6 205 477.4 205C478.2 205 479.1 205.2 479.8 205.7C480.6 206.1 481.3 206.7 481.9 207.5C482.5 208.3 482.9 209.3 483.3 210.3C483.6 211.3 483.8 212.5 483.7 213.6Z" fill="#3A9CE4"/><path d="M482.9 214.2C482.9 215.1 482.6 216.1 482.4 216.9C482.1 217.7 481.6 218.5 481.1 219.1C480.6 219.8 480 220.3 479.4 220.7C478.8 221 478.1 221.2 477.4 221.2C476.7 221.2 476 221 475.4 220.7C474.8 220.3 474.2 219.8 473.7 219.1C473.2 218.5 472.7 217.7 472.4 216.9C472.2 216.1 471.9 215.1 471.9 214.2C471.9 213.3 472.1 212.3 472.3 211.5C472.6 210.7 473 209.9 473.5 209.3C474 208.6 474.7 208.1 475.3 207.7C476 207.4 476.7 207.2 477.4 207.2C478.1 207.2 478.8 207.4 479.5 207.7C480.1 208.1 480.8 208.6 481.3 209.3C481.8 209.9 482.2 210.7 482.5 211.5C482.7 212.3 482.9 213.3 482.9 214.2Z" fill="#1A90EE"/><path d="M480.9 214.6C480.9 215.1 480.8 215.7 480.6 216.2C480.4 216.7 480.2 217.2 479.8 217.6C479.5 217.9 479.1 218.3 478.7 218.5C478.3 218.7 477.8 218.8 477.4 218.8C477 218.8 476.5 218.7 476.1 218.5C475.7 218.3 475.3 217.9 475 217.6C474.6 217.2 474.4 216.7 474.2 216.2C474 215.7 473.9 215.1 473.9 214.6C473.9 214.1 474 213.5 474.2 213C474.4 212.5 474.6 212 475 211.6C475.3 211.3 475.7 210.9 476.1 210.7C476.5 210.5 477 210.4 477.4 210.4C477.8 210.4 478.3 210.5 478.7 210.7C479.1 210.9 479.5 211.3 479.8 211.6C480.2 212 480.4 212.5 480.6 213C480.8 213.5 480.9 214.1 480.9 214.6Z" fill="#1284E5"/><path d="M471 224C469.9 224.8 470.4 228.2 470.6 230C470.8 231.8 471.2 233.7 472 234.6C472.8 235.5 474.3 235.8 475.4 235.6C476.4 235.4 477.4 234.7 478.3 233.4C479.2 232.1 480 229.9 480.6 228C481.2 226.1 482.6 222.5 482 222C481.4 221.5 478.8 224.7 477 225C475.2 225.3 472.1 223.2 471 224Z" fill="#A4E9FF"/><path d="M418.4 174C418.5 174.7 418.8 176.7 419 178C419.2 179.3 419.5 180.7 419.8 182C420.1 183.3 420.2 184.4 420.6 185.7C421 187 421.4 188.6 422 190C422.6 191.4 423.4 192.9 424 194C424.6 195.1 425.1 196 425.8 196.8C426.5 197.6 427.3 198.4 428.1 199C428.9 199.6 429.7 200.1 430.8 200.5C431.9 200.9 432.2 200.9 434.8 201.5C437.4 202.1 442.3 203 446.5 204C450.7 205 455.6 206.1 459.8 207.3C464 208.6 467.9 210.5 471.5 211.5C475.1 212.5 477.9 213 481.5 213.2C485.1 213.4 488.5 213.4 493.1 212.7C497.7 212 503.7 210.2 509.1 209C514.5 207.8 520.2 206.6 525.8 205.7C531.4 204.8 535.5 204.2 542.5 203.8C549.5 203.4 563.6 203.5 567.8 203.4" fill="none" stroke="#000" stroke-width="1.7"/><path d="M422.4 174C422.5 174.7 422.7 176.1 423.1 178C423.5 179.9 424.1 183.3 424.8 185.7C425.5 188.1 426.2 190.4 427.3 192.3C428.4 194.2 429.7 196.1 431.5 197.3C433.3 198.6 435.1 198.9 438.1 199.8C441.2 200.7 445.6 201.6 449.8 202.7C454 203.8 458.7 205.3 463.1 206.5C467.6 207.7 472.3 208.9 476.5 209.8C480.7 210.7 485.4 211.3 488.1 211.7C490.8 212.1 489 212 492.5 212.3C496 212.6 503.6 213.5 509.1 213.7C514.6 213.9 520.2 213.8 525.8 213.7C531.4 213.6 535.5 213.1 542.5 213.2C549.5 213.3 563.6 214.2 567.8 214.4" fill="none" stroke="#000" stroke-width="1.55" stroke-dasharray="1.5 0.9"/></g>
<rect x="52.3" y="3.8" width="233.7" height="102" fill="none" stroke="#000" stroke-width="1.2"/><path d="M77.3 105.8 v3.4M103.3 105.8 v3.4M129.4 105.8 v6.4M155.5 105.8 v3.4M181.5 105.8 v3.4M207.6 105.8 v6.4M233.7 105.8 v3.4M259.8 105.8 v3.4M285.8 105.8 v6.4" stroke="#000" stroke-width="1.1" fill="none"/><text x="129.6" y="127.6" font-size="10.5" text-anchor="middle">30N</text><text x="207.8" y="127.6" font-size="10.5" text-anchor="middle">60N</text><text x="286" y="127.6" font-size="10.5" text-anchor="middle">90N</text><rect x="52.3" y="178.2" width="233.7" height="102.1" fill="none" stroke="#000" stroke-width="1.2"/><path d="M77.3 280.3 v3.4M103.3 280.3 v3.4M129.4 280.3 v6.4M155.5 280.3 v3.4M181.5 280.3 v3.4M207.6 280.3 v6.4M233.7 280.3 v3.4M259.8 280.3 v3.4M285.8 280.3 v6.4" stroke="#000" stroke-width="1.1" fill="none"/><text x="129.6" y="302.1" font-size="10.5" text-anchor="middle">30N</text><text x="207.8" y="302.1" font-size="10.5" text-anchor="middle">60N</text><text x="286" y="302.1" font-size="10.5" text-anchor="middle">90N</text><rect x="331.9" y="3.8" width="233.7" height="102" fill="none" stroke="#000" stroke-width="1.2"/><path d="M356.9 105.8 v3.4M382.9 105.8 v3.4M409 105.8 v6.4M435.1 105.8 v3.4M461.1 105.8 v3.4M487.2 105.8 v6.4M513.3 105.8 v3.4M539.4 105.8 v3.4M565.4 105.8 v6.4" stroke="#000" stroke-width="1.1" fill="none"/><text x="409.2" y="127.6" font-size="10.5" text-anchor="middle">30N</text><text x="487.4" y="127.6" font-size="10.5" text-anchor="middle">60N</text><text x="565.6" y="127.6" font-size="10.5" text-anchor="middle">90N</text><rect x="331.9" y="178.2" width="233.7" height="102.1" fill="none" stroke="#000" stroke-width="1.2"/><path d="M356.9 280.3 v3.4M382.9 280.3 v3.4M409 280.3 v6.4M435.1 280.3 v3.4M461.1 280.3 v3.4M487.2 280.3 v6.4M513.3 280.3 v3.4M539.4 280.3 v3.4M565.4 280.3 v6.4" stroke="#000" stroke-width="1.1" fill="none"/><text x="409.2" y="302.1" font-size="10.5" text-anchor="middle">30N</text><text x="487.4" y="302.1" font-size="10.5" text-anchor="middle">60N</text><text x="565.6" y="302.1" font-size="10.5" text-anchor="middle">90N</text><text x="40.6" y="6.9" font-size="9.8" text-anchor="end">10</text><text x="40.6" y="22.3" font-size="9.8" text-anchor="end">20</text><text x="40.6" y="42.5" font-size="9.8" text-anchor="end">50</text><text x="40.6" y="57.9" font-size="9.8" text-anchor="end">100</text><text x="40.6" y="66.9" font-size="9.8" text-anchor="end">150</text><text x="40.6" y="82.2" font-size="9.8" text-anchor="end">300</text><text x="40.6" y="93.5" font-size="9.8" text-anchor="end">500</text><text x="40.6" y="101" font-size="9.8" text-anchor="end">700</text><text x="40.6" y="108.9" font-size="9.8" text-anchor="end">1000</text><text x="40.6" y="181.3" font-size="9.8" text-anchor="end">150</text><text x="40.6" y="218.6" font-size="9.8" text-anchor="end">300</text><text x="40.6" y="246.1" font-size="9.8" text-anchor="end">500</text><text x="40.6" y="264.2" font-size="9.8" text-anchor="end">700</text><text x="40.6" y="283.4" font-size="9.8" text-anchor="end">1000</text><path d="M52.3 3.8h-6M52.3 19.2h-6M52.3 39.4h-6M52.3 54.8h-6M52.3 63.8h-6M52.3 79.1h-6M52.3 90.4h-6M52.3 97.9h-6M52.3 105.8h-6M52.3 178.2h-6M52.3 215.5h-6M52.3 243h-6M52.3 261.1h-6M52.3 280.3h-6" stroke="#000" stroke-width="1" fill="none"/><text x="320.2" y="6.9" font-size="9.8" text-anchor="end">10</text><text x="320.2" y="22.3" font-size="9.8" text-anchor="end">20</text><text x="320.2" y="42.5" font-size="9.8" text-anchor="end">50</text><text x="320.2" y="57.9" font-size="9.8" text-anchor="end">100</text><text x="320.2" y="66.9" font-size="9.8" text-anchor="end">150</text><text x="320.2" y="82.2" font-size="9.8" text-anchor="end">300</text><text x="320.2" y="93.5" font-size="9.8" text-anchor="end">500</text><text x="320.2" y="101" font-size="9.8" text-anchor="end">700</text><text x="320.2" y="108.9" font-size="9.8" text-anchor="end">1000</text><text x="320.2" y="181.3" font-size="9.8" text-anchor="end">150</text><text x="320.2" y="218.6" font-size="9.8" text-anchor="end">300</text><text x="320.2" y="246.1" font-size="9.8" text-anchor="end">500</text><text x="320.2" y="264.2" font-size="9.8" text-anchor="end">700</text><text x="320.2" y="283.4" font-size="9.8" text-anchor="end">1000</text><path d="M331.9 3.8h-6M331.9 19.2h-6M331.9 39.4h-6M331.9 54.8h-6M331.9 63.8h-6M331.9 79.1h-6M331.9 90.4h-6M331.9 97.9h-6M331.9 105.8h-6M331.9 178.2h-6M331.9 215.5h-6M331.9 243h-6M331.9 261.1h-6M331.9 280.3h-6" stroke="#000" stroke-width="1" fill="none"/><text transform="translate(9.4 55.4) rotate(-90)" font-size="12.3" text-anchor="middle">Pressure (hPa)</text><text transform="translate(9.4 229.4) rotate(-90)" font-size="12.3" text-anchor="middle">Pressure (hPa)</text><rect x="54.6" y="6.5" width="26.6" height="17.9" fill="#fff"/><text x="59" y="20.1" font-size="12.7" text-anchor="start" class="pl">a T</text><rect x="335.2" y="6.5" width="25.7" height="17.4" fill="#fff"/><text x="338.8" y="19.9" font-size="12.7" text-anchor="start" class="pl">b U</text><rect x="54.4" y="180.7" width="40.7" height="20.9" fill="#fff"/><text class="pl" x="59.2" y="194.8" font-size="12.7">c O<tspan font-size="7" dy="2.8">3</tspan><tspan dy="-2.8">S</tspan></text><rect x="334.2" y="180.7" width="32.6" height="20.9" fill="#fff"/><text class="pl" x="338.8" y="194.8" font-size="12.7">d O<tspan font-size="7" dy="2.8">3</tspan></text><rect x="69" y="137" width="11.1" height="12.6" fill="#0762C4" stroke="#000" stroke-width="0.6"/><rect x="80.1" y="137" width="11.1" height="12.6" fill="#0D6DCE" stroke="#000" stroke-width="0.6"/><rect x="91.2" y="137" width="11.1" height="12.6" fill="#1078D8" stroke="#000" stroke-width="0.6"/><rect x="102.3" y="137" width="11.1" height="12.6" fill="#1284E5" stroke="#000" stroke-width="0.6"/><rect x="113.4" y="137" width="11.1" height="12.6" fill="#1A90EE" stroke="#000" stroke-width="0.6"/><rect x="124.6" y="137" width="11.1" height="12.6" fill="#3A9CE4" stroke="#000" stroke-width="0.6"/><rect x="135.7" y="137" width="11.1" height="12.6" fill="#8AD0FF" stroke="#000" stroke-width="0.6"/><rect x="146.8" y="137" width="11.1" height="12.6" fill="#A4E9FF" stroke="#000" stroke-width="0.6"/><rect x="157.9" y="137" width="11.1" height="12.6" fill="#C2F8FD" stroke="#000" stroke-width="0.6"/><rect x="169" y="137" width="11.1" height="12.6" fill="#FFE777" stroke="#000" stroke-width="0.6"/><rect x="180.1" y="137" width="11.1" height="12.6" fill="#FFC250" stroke="#000" stroke-width="0.6"/><rect x="191.2" y="137" width="11.1" height="12.6" fill="#FFA010" stroke="#000" stroke-width="0.6"/><rect x="202.3" y="137" width="11.1" height="12.6" fill="#FF6C0A" stroke="#000" stroke-width="0.6"/><rect x="213.4" y="137" width="11.1" height="12.6" fill="#F84008" stroke="#000" stroke-width="0.6"/><rect x="224.6" y="137" width="11.1" height="12.6" fill="#E61A0A" stroke="#000" stroke-width="0.6"/><rect x="235.7" y="137" width="11.1" height="12.6" fill="#C80A08" stroke="#000" stroke-width="0.6"/><rect x="246.8" y="137" width="11.1" height="12.6" fill="#A40808" stroke="#000" stroke-width="0.6"/><rect x="257.9" y="137" width="11.1" height="12.6" fill="#860000" stroke="#000" stroke-width="0.6"/><text x="80.4" y="162.2" font-size="11.4" text-anchor="middle">-32</text><text x="102.6" y="162.2" font-size="11.4" text-anchor="middle">-24</text><text x="124.9" y="162.2" font-size="11.4" text-anchor="middle">-16</text><text x="147.1" y="162.2" font-size="11.4" text-anchor="middle">-8</text><text x="169" y="162.2" font-size="11.4" text-anchor="middle">0</text><text x="191.2" y="162.2" font-size="11.4" text-anchor="middle">8</text><text x="213.4" y="162.2" font-size="11.4" text-anchor="middle">16</text><text x="235.7" y="162.2" font-size="11.4" text-anchor="middle">24</text><text x="257.9" y="162.2" font-size="11.4" text-anchor="middle">32</text><rect x="349" y="137" width="11.1" height="12.6" fill="#0762C4" stroke="#000" stroke-width="0.6"/><rect x="360.1" y="137" width="11.1" height="12.6" fill="#0D6DCE" stroke="#000" stroke-width="0.6"/><rect x="371.2" y="137" width="11.1" height="12.6" fill="#1078D8" stroke="#000" stroke-width="0.6"/><rect x="382.3" y="137" width="11.1" height="12.6" fill="#1284E5" stroke="#000" stroke-width="0.6"/><rect x="393.4" y="137" width="11.1" height="12.6" fill="#1A90EE" stroke="#000" stroke-width="0.6"/><rect x="404.6" y="137" width="11.1" height="12.6" fill="#3A9CE4" stroke="#000" stroke-width="0.6"/><rect x="415.7" y="137" width="11.1" height="12.6" fill="#8AD0FF" stroke="#000" stroke-width="0.6"/><rect x="426.8" y="137" width="11.1" height="12.6" fill="#A4E9FF" stroke="#000" stroke-width="0.6"/><rect x="437.9" y="137" width="11.1" height="12.6" fill="#C2F8FD" stroke="#000" stroke-width="0.6"/><rect x="449" y="137" width="11.1" height="12.6" fill="#FFE777" stroke="#000" stroke-width="0.6"/><rect x="460.1" y="137" width="11.1" height="12.6" fill="#FFC250" stroke="#000" stroke-width="0.6"/><rect x="471.2" y="137" width="11.1" height="12.6" fill="#FFA010" stroke="#000" stroke-width="0.6"/><rect x="482.3" y="137" width="11.1" height="12.6" fill="#FF6C0A" stroke="#000" stroke-width="0.6"/><rect x="493.4" y="137" width="11.1" height="12.6" fill="#F84008" stroke="#000" stroke-width="0.6"/><rect x="504.6" y="137" width="11.1" height="12.6" fill="#E61A0A" stroke="#000" stroke-width="0.6"/><rect x="515.7" y="137" width="11.1" height="12.6" fill="#C80A08" stroke="#000" stroke-width="0.6"/><rect x="526.8" y="137" width="11.1" height="12.6" fill="#A40808" stroke="#000" stroke-width="0.6"/><rect x="537.9" y="137" width="11.1" height="12.6" fill="#860000" stroke="#000" stroke-width="0.6"/><text x="360.4" y="162.2" font-size="11.4" text-anchor="middle">-32</text><text x="382.6" y="162.2" font-size="11.4" text-anchor="middle">-24</text><text x="404.9" y="162.2" font-size="11.4" text-anchor="middle">-16</text><text x="427.1" y="162.2" font-size="11.4" text-anchor="middle">-8</text><text x="449" y="162.2" font-size="11.4" text-anchor="middle">0</text><text x="471.2" y="162.2" font-size="11.4" text-anchor="middle">8</text><text x="493.4" y="162.2" font-size="11.4" text-anchor="middle">16</text><text x="515.7" y="162.2" font-size="11.4" text-anchor="middle">24</text><text x="537.9" y="162.2" font-size="11.4" text-anchor="middle">32</text><rect x="69" y="311.6" width="11.1" height="12.5" fill="#0762C4" stroke="#000" stroke-width="0.6"/><rect x="80.1" y="311.6" width="11.1" height="12.5" fill="#0D6DCE" stroke="#000" stroke-width="0.6"/><rect x="91.2" y="311.6" width="11.1" height="12.5" fill="#1078D8" stroke="#000" stroke-width="0.6"/><rect x="102.3" y="311.6" width="11.1" height="12.5" fill="#1284E5" stroke="#000" stroke-width="0.6"/><rect x="113.4" y="311.6" width="11.1" height="12.5" fill="#1A90EE" stroke="#000" stroke-width="0.6"/><rect x="124.6" y="311.6" width="11.1" height="12.5" fill="#3A9CE4" stroke="#000" stroke-width="0.6"/><rect x="135.7" y="311.6" width="11.1" height="12.5" fill="#8AD0FF" stroke="#000" stroke-width="0.6"/><rect x="146.8" y="311.6" width="11.1" height="12.5" fill="#A4E9FF" stroke="#000" stroke-width="0.6"/><rect x="157.9" y="311.6" width="11.1" height="12.5" fill="#C2F8FD" stroke="#000" stroke-width="0.6"/><rect x="169" y="311.6" width="11.1" height="12.5" fill="#FFE777" stroke="#000" stroke-width="0.6"/><rect x="180.1" y="311.6" width="11.1" height="12.5" fill="#FFC250" stroke="#000" stroke-width="0.6"/><rect x="191.2" y="311.6" width="11.1" height="12.5" fill="#FFA010" stroke="#000" stroke-width="0.6"/><rect x="202.3" y="311.6" width="11.1" height="12.5" fill="#FF6C0A" stroke="#000" stroke-width="0.6"/><rect x="213.4" y="311.6" width="11.1" height="12.5" fill="#F84008" stroke="#000" stroke-width="0.6"/><rect x="224.6" y="311.6" width="11.1" height="12.5" fill="#E61A0A" stroke="#000" stroke-width="0.6"/><rect x="235.7" y="311.6" width="11.1" height="12.5" fill="#C80A08" stroke="#000" stroke-width="0.6"/><rect x="246.8" y="311.6" width="11.1" height="12.5" fill="#A40808" stroke="#000" stroke-width="0.6"/><rect x="257.9" y="311.6" width="11.1" height="12.5" fill="#860000" stroke="#000" stroke-width="0.6"/><text x="80.4" y="336.7" font-size="11.4" text-anchor="middle">-8</text><text x="102.6" y="336.7" font-size="11.4" text-anchor="middle">-6</text><text x="124.9" y="336.7" font-size="11.4" text-anchor="middle">-4</text><text x="147.1" y="336.7" font-size="11.4" text-anchor="middle">-2</text><text x="169" y="336.7" font-size="11.4" text-anchor="middle">0</text><text x="191.2" y="336.7" font-size="11.4" text-anchor="middle">2</text><text x="213.4" y="336.7" font-size="11.4" text-anchor="middle">4</text><text x="235.7" y="336.7" font-size="11.4" text-anchor="middle">6</text><text x="257.9" y="336.7" font-size="11.4" text-anchor="middle">8</text><rect x="349" y="311.6" width="11.1" height="12.5" fill="#0762C4" stroke="#000" stroke-width="0.6"/><rect x="360.1" y="311.6" width="11.1" height="12.5" fill="#0D6DCE" stroke="#000" stroke-width="0.6"/><rect x="371.2" y="311.6" width="11.1" height="12.5" fill="#1078D8" stroke="#000" stroke-width="0.6"/><rect x="382.3" y="311.6" width="11.1" height="12.5" fill="#1284E5" stroke="#000" stroke-width="0.6"/><rect x="393.4" y="311.6" width="11.1" height="12.5" fill="#1A90EE" stroke="#000" stroke-width="0.6"/><rect x="404.6" y="311.6" width="11.1" height="12.5" fill="#3A9CE4" stroke="#000" stroke-width="0.6"/><rect x="415.7" y="311.6" width="11.1" height="12.5" fill="#8AD0FF" stroke="#000" stroke-width="0.6"/><rect x="426.8" y="311.6" width="11.1" height="12.5" fill="#A4E9FF" stroke="#000" stroke-width="0.6"/><rect x="437.9" y="311.6" width="11.1" height="12.5" fill="#C2F8FD" stroke="#000" stroke-width="0.6"/><rect x="449" y="311.6" width="11.1" height="12.5" fill="#FFE777" stroke="#000" stroke-width="0.6"/><rect x="460.1" y="311.6" width="11.1" height="12.5" fill="#FFC250" stroke="#000" stroke-width="0.6"/><rect x="471.2" y="311.6" width="11.1" height="12.5" fill="#FFA010" stroke="#000" stroke-width="0.6"/><rect x="482.3" y="311.6" width="11.1" height="12.5" fill="#FF6C0A" stroke="#000" stroke-width="0.6"/><rect x="493.4" y="311.6" width="11.1" height="12.5" fill="#F84008" stroke="#000" stroke-width="0.6"/><rect x="504.6" y="311.6" width="11.1" height="12.5" fill="#E61A0A" stroke="#000" stroke-width="0.6"/><rect x="515.7" y="311.6" width="11.1" height="12.5" fill="#C80A08" stroke="#000" stroke-width="0.6"/><rect x="526.8" y="311.6" width="11.1" height="12.5" fill="#A40808" stroke="#000" stroke-width="0.6"/><rect x="537.9" y="311.6" width="11.1" height="12.5" fill="#860000" stroke="#000" stroke-width="0.6"/><text x="360.4" y="336.7" font-size="11.4" text-anchor="middle">-8</text><text x="382.6" y="336.7" font-size="11.4" text-anchor="middle">-6</text><text x="404.9" y="336.7" font-size="11.4" text-anchor="middle">-4</text><text x="427.1" y="336.7" font-size="11.4" text-anchor="middle">-2</text><text x="449" y="336.7" font-size="11.4" text-anchor="middle">0</text><text x="471.2" y="336.7" font-size="11.4" text-anchor="middle">2</text><text x="493.4" y="336.7" font-size="11.4" text-anchor="middle">4</text><text x="515.7" y="336.7" font-size="11.4" text-anchor="middle">6</text><text x="537.9" y="336.7" font-size="11.4" text-anchor="middle">8</text>
</svg>
</body></html>
